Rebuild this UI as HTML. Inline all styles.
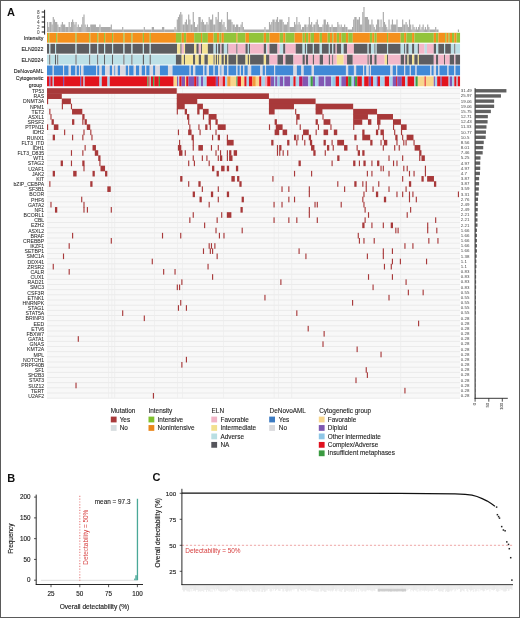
<!DOCTYPE html>
<html><head><meta charset="utf-8"><style>
html,body{margin:0;padding:0;background:#fff;}
body{width:520px;height:618px;overflow:hidden;}
svg{display:block;will-change:transform;}
</style></head><body>
<svg width="520" height="618" viewBox="0 0 520 618">
<rect width="520" height="618" fill="#fff"/>
<rect x="0.5" y="0.5" width="519" height="617" fill="none" stroke="#5a5a5a" stroke-width="1"/>
<text x="7.1" y="16" font-size="11" font-weight="bold" font-family="Liberation Sans, sans-serif" fill="#111">A</text>
<text x="7.3" y="481.6" font-size="11" font-weight="bold" font-family="Liberation Sans, sans-serif" fill="#111">B</text>
<text x="152.6" y="480.8" font-size="11" font-weight="bold" font-family="Liberation Sans, sans-serif" fill="#111">C</text>
<g fill="#ababab">
<rect x="47" y="22" width="1.17" height="10"/>
<rect x="48.14" y="27" width="1.17" height="5"/>
<rect x="49.28" y="22" width="2.31" height="10"/>
<rect x="51.55" y="24.5" width="1.17" height="7.5"/>
<rect x="52.69" y="17" width="1.17" height="15"/>
<rect x="53.83" y="19.5" width="1.17" height="12.5"/>
<rect x="54.97" y="22" width="2.31" height="10"/>
<rect x="57.24" y="24.5" width="1.17" height="7.5"/>
<rect x="58.38" y="27" width="2.31" height="5"/>
<rect x="60.66" y="24.5" width="1.17" height="7.5"/>
<rect x="61.8" y="22" width="1.17" height="10"/>
<rect x="62.93" y="24.5" width="2.31" height="7.5"/>
<rect x="65.21" y="27" width="3.44" height="5"/>
<rect x="68.62" y="22" width="1.17" height="10"/>
<rect x="69.76" y="27" width="1.17" height="5"/>
<rect x="70.9" y="22" width="1.17" height="10"/>
<rect x="72.04" y="19.5" width="1.17" height="12.5"/>
<rect x="73.18" y="22" width="1.17" height="10"/>
<rect x="74.31" y="24.5" width="1.17" height="7.5"/>
<rect x="75.45" y="22" width="1.17" height="10"/>
<rect x="76.59" y="27" width="1.17" height="5"/>
<rect x="77.73" y="24.5" width="1.17" height="7.5"/>
<rect x="78.87" y="27" width="2.31" height="5"/>
<rect x="81.14" y="24.5" width="1.17" height="7.5"/>
<rect x="82.28" y="17" width="1.17" height="15"/>
<rect x="83.42" y="14.5" width="1.17" height="17.5"/>
<rect x="84.56" y="24.5" width="1.17" height="7.5"/>
<rect x="85.7" y="27" width="1.17" height="5"/>
<rect x="86.83" y="24.5" width="1.17" height="7.5"/>
<rect x="87.97" y="27" width="2.31" height="5"/>
<rect x="90.25" y="24.5" width="5.72" height="7.5"/>
<rect x="95.94" y="27" width="3.44" height="5"/>
<rect x="99.35" y="24.5" width="1.17" height="7.5"/>
<rect x="100.49" y="27" width="10.27" height="5"/>
<rect x="110.73" y="24.5" width="1.17" height="7.5"/>
<rect x="111.87" y="29.5" width="10.27" height="2.5"/>
<rect x="122.12" y="27" width="1.17" height="5"/>
<rect x="123.25" y="29.5" width="20.52" height="2.5"/>
<rect x="143.74" y="27" width="1.17" height="5"/>
<rect x="144.88" y="29.5" width="6.86" height="2.5"/>
<rect x="151.71" y="27" width="2.31" height="5"/>
<rect x="153.98" y="29.5" width="8" height="2.5"/>
<rect x="161.95" y="27" width="2.31" height="5"/>
<rect x="164.23" y="29.5" width="10.27" height="2.5"/>
<rect x="174.47" y="27" width="1.17" height="5"/>
<rect x="175.61" y="29.5" width="1.17" height="2.5"/>
<rect x="176.75" y="19.5" width="1.17" height="12.5"/>
<rect x="177.88" y="17" width="1.17" height="15"/>
<rect x="179.02" y="14.5" width="1.17" height="17.5"/>
<rect x="180.16" y="12" width="1.17" height="20"/>
<rect x="181.3" y="14.5" width="1.17" height="17.5"/>
<rect x="182.44" y="24.5" width="2.31" height="7.5"/>
<rect x="184.71" y="22" width="1.17" height="10"/>
<rect x="185.85" y="19.5" width="1.17" height="12.5"/>
<rect x="186.99" y="24.5" width="1.17" height="7.5"/>
<rect x="188.13" y="14.5" width="1.17" height="17.5"/>
<rect x="189.27" y="19.5" width="1.17" height="12.5"/>
<rect x="190.4" y="24.5" width="2.31" height="7.5"/>
<rect x="192.68" y="12" width="1.17" height="20"/>
<rect x="193.82" y="22" width="1.17" height="10"/>
<rect x="194.96" y="27" width="2.31" height="5"/>
<rect x="197.23" y="24.5" width="1.17" height="7.5"/>
<rect x="198.37" y="17" width="2.31" height="15"/>
<rect x="200.65" y="22" width="1.17" height="10"/>
<rect x="201.78" y="19.5" width="1.17" height="12.5"/>
<rect x="202.92" y="22" width="1.17" height="10"/>
<rect x="204.06" y="24.5" width="2.31" height="7.5"/>
<rect x="206.34" y="22" width="1.17" height="10"/>
<rect x="207.48" y="24.5" width="1.17" height="7.5"/>
<rect x="208.61" y="17" width="1.17" height="15"/>
<rect x="209.75" y="19.5" width="2.31" height="12.5"/>
<rect x="212.03" y="14.5" width="1.17" height="17.5"/>
<rect x="213.17" y="24.5" width="2.31" height="7.5"/>
<rect x="215.44" y="17" width="1.17" height="15"/>
<rect x="216.58" y="19.5" width="1.17" height="12.5"/>
<rect x="217.72" y="12" width="1.17" height="20"/>
<rect x="218.86" y="22" width="2.31" height="10"/>
<rect x="221.13" y="19.5" width="1.17" height="12.5"/>
<rect x="222.27" y="24.5" width="1.17" height="7.5"/>
<rect x="223.41" y="22" width="1.17" height="10"/>
<rect x="224.55" y="27" width="1.17" height="5"/>
<rect x="225.69" y="29.5" width="1.17" height="2.5"/>
<rect x="226.82" y="12" width="1.17" height="20"/>
<rect x="227.96" y="19.5" width="3.44" height="12.5"/>
<rect x="231.38" y="22" width="1.17" height="10"/>
<rect x="232.51" y="24.5" width="2.31" height="7.5"/>
<rect x="234.79" y="27" width="1.17" height="5"/>
<rect x="235.93" y="24.5" width="2.31" height="7.5"/>
<rect x="238.2" y="27" width="2.31" height="5"/>
<rect x="240.48" y="24.5" width="1.17" height="7.5"/>
<rect x="241.62" y="22" width="1.17" height="10"/>
<rect x="242.76" y="27" width="1.17" height="5"/>
<rect x="243.9" y="29.5" width="20.52" height="2.5"/>
<rect x="264.38" y="27" width="1.17" height="5"/>
<rect x="265.52" y="29.5" width="3.44" height="2.5"/>
<rect x="268.93" y="22" width="1.17" height="10"/>
<rect x="270.07" y="24.5" width="1.17" height="7.5"/>
<rect x="271.21" y="22" width="1.17" height="10"/>
<rect x="272.35" y="19.5" width="2.31" height="12.5"/>
<rect x="274.62" y="22" width="1.17" height="10"/>
<rect x="275.76" y="19.5" width="1.17" height="12.5"/>
<rect x="276.9" y="17" width="1.17" height="15"/>
<rect x="278.04" y="22" width="1.17" height="10"/>
<rect x="279.18" y="19.5" width="3.44" height="12.5"/>
<rect x="282.59" y="22" width="1.17" height="10"/>
<rect x="283.73" y="24.5" width="3.44" height="7.5"/>
<rect x="287.14" y="22" width="1.17" height="10"/>
<rect x="288.28" y="17" width="1.17" height="15"/>
<rect x="289.42" y="27" width="4.58" height="5"/>
<rect x="293.97" y="22" width="1.17" height="10"/>
<rect x="295.11" y="24.5" width="1.17" height="7.5"/>
<rect x="296.25" y="17" width="1.17" height="15"/>
<rect x="297.39" y="24.5" width="1.17" height="7.5"/>
<rect x="298.52" y="22" width="1.17" height="10"/>
<rect x="299.66" y="24.5" width="1.17" height="7.5"/>
<rect x="300.8" y="29.5" width="1.17" height="2.5"/>
<rect x="301.94" y="27" width="2.31" height="5"/>
<rect x="304.22" y="24.5" width="2.31" height="7.5"/>
<rect x="306.49" y="27" width="1.17" height="5"/>
<rect x="307.63" y="24.5" width="1.17" height="7.5"/>
<rect x="308.77" y="17" width="1.17" height="15"/>
<rect x="309.91" y="24.5" width="1.17" height="7.5"/>
<rect x="311.04" y="22" width="1.17" height="10"/>
<rect x="312.18" y="27" width="1.17" height="5"/>
<rect x="313.32" y="24.5" width="2.31" height="7.5"/>
<rect x="315.6" y="22" width="1.17" height="10"/>
<rect x="316.73" y="19.5" width="1.17" height="12.5"/>
<rect x="317.87" y="24.5" width="1.17" height="7.5"/>
<rect x="319.01" y="27" width="3.44" height="5"/>
<rect x="322.43" y="24.5" width="1.17" height="7.5"/>
<rect x="323.56" y="19.5" width="2.31" height="12.5"/>
<rect x="325.84" y="24.5" width="1.17" height="7.5"/>
<rect x="326.98" y="22" width="1.17" height="10"/>
<rect x="328.12" y="24.5" width="1.17" height="7.5"/>
<rect x="329.25" y="27" width="2.31" height="5"/>
<rect x="331.53" y="24.5" width="1.17" height="7.5"/>
<rect x="332.67" y="27" width="4.58" height="5"/>
<rect x="337.22" y="22" width="1.17" height="10"/>
<rect x="338.36" y="24.5" width="1.17" height="7.5"/>
<rect x="339.5" y="27" width="1.17" height="5"/>
<rect x="340.64" y="24.5" width="1.17" height="7.5"/>
<rect x="341.77" y="27" width="2.31" height="5"/>
<rect x="344.05" y="24.5" width="1.17" height="7.5"/>
<rect x="345.19" y="27" width="2.31" height="5"/>
<rect x="347.46" y="29.5" width="4.58" height="2.5"/>
<rect x="352.02" y="27" width="1.17" height="5"/>
<rect x="353.15" y="19.5" width="1.17" height="12.5"/>
<rect x="354.29" y="17" width="2.31" height="15"/>
<rect x="356.57" y="19.5" width="2.31" height="12.5"/>
<rect x="358.85" y="17" width="1.17" height="15"/>
<rect x="359.98" y="24.5" width="2.31" height="7.5"/>
<rect x="362.26" y="12" width="1.17" height="20"/>
<rect x="363.4" y="7" width="1.17" height="25"/>
<rect x="364.54" y="17" width="3.44" height="15"/>
<rect x="367.95" y="19.5" width="1.17" height="12.5"/>
<rect x="369.09" y="24.5" width="2.31" height="7.5"/>
<rect x="371.36" y="19.5" width="1.17" height="12.5"/>
<rect x="372.5" y="24.5" width="1.17" height="7.5"/>
<rect x="373.64" y="27" width="1.17" height="5"/>
<rect x="374.78" y="29.5" width="1.17" height="2.5"/>
<rect x="375.92" y="24.5" width="1.17" height="7.5"/>
<rect x="377.06" y="19.5" width="2.31" height="12.5"/>
<rect x="379.33" y="27" width="1.17" height="5"/>
<rect x="380.47" y="19.5" width="1.17" height="12.5"/>
<rect x="381.61" y="27" width="1.17" height="5"/>
<rect x="382.75" y="12" width="1.17" height="20"/>
<rect x="383.88" y="22" width="1.17" height="10"/>
<rect x="385.02" y="24.5" width="1.17" height="7.5"/>
<rect x="386.16" y="27" width="1.17" height="5"/>
<rect x="387.3" y="29.5" width="1.17" height="2.5"/>
<rect x="388.44" y="19.5" width="1.17" height="12.5"/>
<rect x="389.57" y="29.5" width="1.17" height="2.5"/>
<rect x="390.71" y="24.5" width="1.17" height="7.5"/>
<rect x="391.85" y="19.5" width="1.17" height="12.5"/>
<rect x="392.99" y="24.5" width="3.44" height="7.5"/>
<rect x="396.4" y="19.5" width="1.17" height="12.5"/>
<rect x="397.54" y="27" width="4.58" height="5"/>
<rect x="402.09" y="19.5" width="1.17" height="12.5"/>
<rect x="403.23" y="24.5" width="2.31" height="7.5"/>
<rect x="405.51" y="22" width="1.17" height="10"/>
<rect x="406.65" y="24.5" width="1.17" height="7.5"/>
<rect x="407.78" y="27" width="1.17" height="5"/>
<rect x="408.92" y="19.5" width="1.17" height="12.5"/>
<rect x="410.06" y="24.5" width="1.17" height="7.5"/>
<rect x="411.2" y="29.5" width="1.17" height="2.5"/>
<rect x="412.34" y="24.5" width="1.17" height="7.5"/>
<rect x="413.48" y="27" width="1.17" height="5"/>
<rect x="414.61" y="29.5" width="1.17" height="2.5"/>
<rect x="415.75" y="27" width="1.17" height="5"/>
<rect x="416.89" y="29.5" width="1.17" height="2.5"/>
<rect x="418.03" y="27" width="1.17" height="5"/>
<rect x="419.17" y="24.5" width="1.17" height="7.5"/>
<rect x="420.3" y="29.5" width="1.17" height="2.5"/>
<rect x="421.44" y="27" width="1.17" height="5"/>
<rect x="422.58" y="24.5" width="1.17" height="7.5"/>
<rect x="423.72" y="29.5" width="1.17" height="2.5"/>
<rect x="424.86" y="27" width="1.17" height="5"/>
<rect x="425.99" y="29.5" width="1.17" height="2.5"/>
<rect x="427.13" y="24.5" width="1.17" height="7.5"/>
<rect x="428.27" y="27" width="1.17" height="5"/>
<rect x="429.41" y="29.5" width="5.72" height="2.5"/>
<rect x="435.1" y="27" width="1.17" height="5"/>
<rect x="436.24" y="29.5" width="2.31" height="2.5"/>
<rect x="457.86" y="29.5" width="1.17" height="2.5"/>
</g>
<line x1="44.6" y1="9.8" x2="44.6" y2="34.6" stroke="#111" stroke-width="0.9"/>
<line x1="41.7" y1="32" x2="44.6" y2="32" stroke="#111" stroke-width="0.95"/>
<text x="39.7" y="33.7" text-anchor="end" font-size="4.7" font-family="Liberation Sans, sans-serif" fill="#555" stroke="#555" stroke-width="0.08">0</text>
<line x1="41.7" y1="27" x2="44.6" y2="27" stroke="#111" stroke-width="0.95"/>
<text x="39.7" y="28.7" text-anchor="end" font-size="4.7" font-family="Liberation Sans, sans-serif" fill="#555" stroke="#555" stroke-width="0.08">2</text>
<line x1="41.7" y1="22" x2="44.6" y2="22" stroke="#111" stroke-width="0.95"/>
<text x="39.7" y="23.7" text-anchor="end" font-size="4.7" font-family="Liberation Sans, sans-serif" fill="#555" stroke="#555" stroke-width="0.08">4</text>
<line x1="41.7" y1="17" x2="44.6" y2="17" stroke="#111" stroke-width="0.95"/>
<text x="39.7" y="18.7" text-anchor="end" font-size="4.7" font-family="Liberation Sans, sans-serif" fill="#555" stroke="#555" stroke-width="0.08">6</text>
<line x1="41.7" y1="12" x2="44.6" y2="12" stroke="#111" stroke-width="0.95"/>
<text x="39.7" y="13.7" text-anchor="end" font-size="4.7" font-family="Liberation Sans, sans-serif" fill="#555" stroke="#555" stroke-width="0.08">8</text>
<rect x="47" y="32.8" width="1.19" height="9.85" fill="#f4901c"/>
<rect x="48.14" y="32.8" width="1.19" height="9.85" fill="#92c43a"/>
<rect x="49.28" y="32.8" width="6.9" height="9.85" fill="#f4901c"/>
<rect x="56.13" y="32.8" width="1.19" height="9.85" fill="#92c43a"/>
<rect x="57.27" y="32.8" width="18.3" height="9.85" fill="#f4901c"/>
<rect x="75.52" y="32.8" width="1.19" height="9.85" fill="#92c43a"/>
<rect x="76.66" y="32.8" width="12.6" height="9.85" fill="#f4901c"/>
<rect x="89.21" y="32.8" width="1.19" height="9.85" fill="#92c43a"/>
<rect x="90.35" y="32.8" width="6.9" height="9.85" fill="#f4901c"/>
<rect x="97.2" y="32.8" width="1.19" height="9.85" fill="#92c43a"/>
<rect x="98.34" y="32.8" width="5.75" height="9.85" fill="#f4901c"/>
<rect x="104.04" y="32.8" width="1.19" height="9.85" fill="#92c43a"/>
<rect x="105.19" y="32.8" width="6.9" height="9.85" fill="#f4901c"/>
<rect x="112.03" y="32.8" width="1.19" height="9.85" fill="#92c43a"/>
<rect x="113.17" y="32.8" width="10.32" height="9.85" fill="#f4901c"/>
<rect x="123.44" y="32.8" width="1.19" height="9.85" fill="#92c43a"/>
<rect x="124.58" y="32.8" width="6.9" height="9.85" fill="#f4901c"/>
<rect x="131.43" y="32.8" width="1.19" height="9.85" fill="#92c43a"/>
<rect x="132.57" y="32.8" width="10.32" height="9.85" fill="#f4901c"/>
<rect x="142.83" y="32.8" width="1.19" height="9.85" fill="#92c43a"/>
<rect x="143.98" y="32.8" width="5.75" height="9.85" fill="#f4901c"/>
<rect x="149.68" y="32.8" width="1.19" height="9.85" fill="#92c43a"/>
<rect x="150.82" y="32.8" width="25.15" height="9.85" fill="#f4901c"/>
<rect x="175.92" y="32.8" width="5.75" height="9.85" fill="#92c43a"/>
<rect x="181.62" y="32.8" width="2.33" height="9.85" fill="#f4901c"/>
<rect x="183.91" y="32.8" width="2.33" height="9.85" fill="#92c43a"/>
<rect x="186.19" y="32.8" width="8.04" height="9.85" fill="#f4901c"/>
<rect x="194.17" y="32.8" width="6.9" height="9.85" fill="#92c43a"/>
<rect x="201.02" y="32.8" width="1.19" height="9.85" fill="#f4901c"/>
<rect x="202.16" y="32.8" width="5.75" height="9.85" fill="#92c43a"/>
<rect x="207.86" y="32.8" width="5.75" height="9.85" fill="#f4901c"/>
<rect x="213.57" y="32.8" width="3.47" height="9.85" fill="#92c43a"/>
<rect x="216.99" y="32.8" width="2.33" height="9.85" fill="#f4901c"/>
<rect x="219.27" y="32.8" width="2.33" height="9.85" fill="#92c43a"/>
<rect x="221.56" y="32.8" width="2.33" height="9.85" fill="#f4901c"/>
<rect x="223.84" y="32.8" width="12.6" height="9.85" fill="#92c43a"/>
<rect x="236.39" y="32.8" width="1.19" height="9.85" fill="#f4901c"/>
<rect x="237.53" y="32.8" width="8.04" height="9.85" fill="#92c43a"/>
<rect x="245.51" y="32.8" width="3.47" height="9.85" fill="#f4901c"/>
<rect x="248.94" y="32.8" width="14.88" height="9.85" fill="#92c43a"/>
<rect x="263.77" y="32.8" width="2.33" height="9.85" fill="#f4901c"/>
<rect x="266.05" y="32.8" width="3.47" height="9.85" fill="#92c43a"/>
<rect x="269.47" y="32.8" width="10.32" height="9.85" fill="#f4901c"/>
<rect x="279.74" y="32.8" width="3.47" height="9.85" fill="#92c43a"/>
<rect x="283.16" y="32.8" width="2.33" height="9.85" fill="#f4901c"/>
<rect x="285.44" y="32.8" width="9.18" height="9.85" fill="#92c43a"/>
<rect x="294.57" y="32.8" width="8.04" height="9.85" fill="#f4901c"/>
<rect x="302.56" y="32.8" width="2.33" height="9.85" fill="#92c43a"/>
<rect x="304.84" y="32.8" width="1.19" height="9.85" fill="#f4901c"/>
<rect x="305.98" y="32.8" width="2.33" height="9.85" fill="#92c43a"/>
<rect x="308.26" y="32.8" width="2.33" height="9.85" fill="#f4901c"/>
<rect x="310.54" y="32.8" width="3.47" height="9.85" fill="#92c43a"/>
<rect x="313.97" y="32.8" width="5.75" height="9.85" fill="#f4901c"/>
<rect x="319.67" y="32.8" width="2.33" height="9.85" fill="#92c43a"/>
<rect x="321.95" y="32.8" width="5.75" height="9.85" fill="#f4901c"/>
<rect x="327.66" y="32.8" width="2.33" height="9.85" fill="#92c43a"/>
<rect x="329.94" y="32.8" width="2.33" height="9.85" fill="#f4901c"/>
<rect x="332.22" y="32.8" width="1.19" height="9.85" fill="#92c43a"/>
<rect x="333.36" y="32.8" width="3.47" height="9.85" fill="#f4901c"/>
<rect x="336.78" y="32.8" width="2.33" height="9.85" fill="#92c43a"/>
<rect x="339.07" y="32.8" width="2.33" height="9.85" fill="#f4901c"/>
<rect x="341.35" y="32.8" width="4.61" height="9.85" fill="#92c43a"/>
<rect x="345.91" y="32.8" width="2.33" height="9.85" fill="#f4901c"/>
<rect x="348.19" y="32.8" width="4.61" height="9.85" fill="#92c43a"/>
<rect x="352.76" y="32.8" width="17.16" height="9.85" fill="#f4901c"/>
<rect x="369.87" y="32.8" width="2.33" height="9.85" fill="#92c43a"/>
<rect x="372.15" y="32.8" width="2.33" height="9.85" fill="#f4901c"/>
<rect x="374.43" y="32.8" width="2.33" height="9.85" fill="#92c43a"/>
<rect x="376.72" y="32.8" width="10.32" height="9.85" fill="#f4901c"/>
<rect x="386.98" y="32.8" width="1.19" height="9.85" fill="#92c43a"/>
<rect x="388.12" y="32.8" width="12.6" height="9.85" fill="#f4901c"/>
<rect x="400.67" y="32.8" width="3.47" height="9.85" fill="#92c43a"/>
<rect x="404.1" y="32.8" width="2.33" height="9.85" fill="#f4901c"/>
<rect x="406.38" y="32.8" width="5.75" height="9.85" fill="#92c43a"/>
<rect x="412.08" y="32.8" width="2.33" height="9.85" fill="#f4901c"/>
<rect x="414.36" y="32.8" width="19.45" height="9.85" fill="#92c43a"/>
<rect x="433.76" y="32.8" width="2.33" height="9.85" fill="#f4901c"/>
<rect x="436.04" y="32.8" width="2.33" height="9.85" fill="#92c43a"/>
<rect x="438.32" y="32.8" width="6.9" height="9.85" fill="#f4901c"/>
<rect x="445.17" y="32.8" width="1.19" height="9.85" fill="#92c43a"/>
<rect x="446.31" y="32.8" width="2.33" height="9.85" fill="#f4901c"/>
<rect x="448.59" y="32.8" width="1.19" height="9.85" fill="#92c43a"/>
<rect x="449.73" y="32.8" width="2.33" height="9.85" fill="#f4901c"/>
<rect x="452.01" y="32.8" width="2.33" height="9.85" fill="#92c43a"/>
<rect x="454.3" y="32.8" width="2.33" height="9.85" fill="#f4901c"/>
<rect x="456.58" y="32.8" width="3.47" height="9.85" fill="#92c43a"/>
<rect x="47" y="43.8" width="2.33" height="9.85" fill="#5d5d60"/>
<rect x="49.28" y="43.8" width="1.19" height="9.85" fill="#bde0e6"/>
<rect x="50.42" y="43.8" width="4.61" height="9.85" fill="#5d5d60"/>
<rect x="54.99" y="43.8" width="1.19" height="9.85" fill="#bde0e6"/>
<rect x="56.13" y="43.8" width="19.45" height="9.85" fill="#5d5d60"/>
<rect x="75.52" y="43.8" width="1.19" height="9.85" fill="#bde0e6"/>
<rect x="76.66" y="43.8" width="12.6" height="9.85" fill="#5d5d60"/>
<rect x="89.21" y="43.8" width="1.19" height="9.85" fill="#bde0e6"/>
<rect x="90.35" y="43.8" width="6.9" height="9.85" fill="#5d5d60"/>
<rect x="97.2" y="43.8" width="1.19" height="9.85" fill="#bde0e6"/>
<rect x="98.34" y="43.8" width="5.75" height="9.85" fill="#5d5d60"/>
<rect x="104.04" y="43.8" width="1.19" height="9.85" fill="#bde0e6"/>
<rect x="105.19" y="43.8" width="6.9" height="9.85" fill="#5d5d60"/>
<rect x="112.03" y="43.8" width="1.19" height="9.85" fill="#bde0e6"/>
<rect x="113.17" y="43.8" width="10.32" height="9.85" fill="#5d5d60"/>
<rect x="123.44" y="43.8" width="1.19" height="9.85" fill="#bde0e6"/>
<rect x="124.58" y="43.8" width="6.9" height="9.85" fill="#5d5d60"/>
<rect x="131.43" y="43.8" width="1.19" height="9.85" fill="#bde0e6"/>
<rect x="132.57" y="43.8" width="10.32" height="9.85" fill="#5d5d60"/>
<rect x="142.83" y="43.8" width="1.19" height="9.85" fill="#bde0e6"/>
<rect x="143.98" y="43.8" width="5.75" height="9.85" fill="#5d5d60"/>
<rect x="149.68" y="43.8" width="1.19" height="9.85" fill="#bde0e6"/>
<rect x="150.82" y="43.8" width="26.29" height="9.85" fill="#5d5d60"/>
<rect x="177.06" y="43.8" width="3.47" height="9.85" fill="#f4e394"/>
<rect x="180.48" y="43.8" width="1.19" height="9.85" fill="#5d5d60"/>
<rect x="181.62" y="43.8" width="2.33" height="9.85" fill="#f3b8c9"/>
<rect x="183.91" y="43.8" width="1.19" height="9.85" fill="#f4e394"/>
<rect x="185.05" y="43.8" width="9.18" height="9.85" fill="#5d5d60"/>
<rect x="194.17" y="43.8" width="2.33" height="9.85" fill="#f4e394"/>
<rect x="196.46" y="43.8" width="2.33" height="9.85" fill="#5d5d60"/>
<rect x="198.74" y="43.8" width="2.33" height="9.85" fill="#f3b8c9"/>
<rect x="201.02" y="43.8" width="1.19" height="9.85" fill="#5d5d60"/>
<rect x="202.16" y="43.8" width="5.75" height="9.85" fill="#f4e394"/>
<rect x="207.86" y="43.8" width="5.75" height="9.85" fill="#5d5d60"/>
<rect x="213.57" y="43.8" width="2.33" height="9.85" fill="#bde0e6"/>
<rect x="215.85" y="43.8" width="1.19" height="9.85" fill="#5d5d60"/>
<rect x="216.99" y="43.8" width="1.19" height="9.85" fill="#bde0e6"/>
<rect x="218.13" y="43.8" width="2.33" height="9.85" fill="#5d5d60"/>
<rect x="220.41" y="43.8" width="1.19" height="9.85" fill="#f3b8c9"/>
<rect x="221.56" y="43.8" width="2.33" height="9.85" fill="#5d5d60"/>
<rect x="223.84" y="43.8" width="3.47" height="9.85" fill="#bde0e6"/>
<rect x="227.26" y="43.8" width="1.19" height="9.85" fill="#5d5d60"/>
<rect x="228.4" y="43.8" width="8.04" height="9.85" fill="#f3b8c9"/>
<rect x="236.39" y="43.8" width="1.19" height="9.85" fill="#5d5d60"/>
<rect x="237.53" y="43.8" width="8.04" height="9.85" fill="#f3b8c9"/>
<rect x="245.51" y="43.8" width="2.33" height="9.85" fill="#5d5d60"/>
<rect x="247.8" y="43.8" width="1.19" height="9.85" fill="#bde0e6"/>
<rect x="248.94" y="43.8" width="1.19" height="9.85" fill="#5d5d60"/>
<rect x="250.08" y="43.8" width="13.74" height="9.85" fill="#f3b8c9"/>
<rect x="263.77" y="43.8" width="2.33" height="9.85" fill="#5d5d60"/>
<rect x="266.05" y="43.8" width="1.19" height="9.85" fill="#bde0e6"/>
<rect x="267.19" y="43.8" width="2.33" height="9.85" fill="#f3b8c9"/>
<rect x="269.47" y="43.8" width="8.04" height="9.85" fill="#5d5d60"/>
<rect x="277.46" y="43.8" width="2.33" height="9.85" fill="#f3b8c9"/>
<rect x="279.74" y="43.8" width="3.47" height="9.85" fill="#bde0e6"/>
<rect x="283.16" y="43.8" width="2.33" height="9.85" fill="#5d5d60"/>
<rect x="285.44" y="43.8" width="10.32" height="9.85" fill="#f3b8c9"/>
<rect x="295.71" y="43.8" width="6.9" height="9.85" fill="#5d5d60"/>
<rect x="302.56" y="43.8" width="2.33" height="9.85" fill="#bde0e6"/>
<rect x="304.84" y="43.8" width="1.19" height="9.85" fill="#5d5d60"/>
<rect x="305.98" y="43.8" width="1.19" height="9.85" fill="#bde0e6"/>
<rect x="307.12" y="43.8" width="5.75" height="9.85" fill="#5d5d60"/>
<rect x="312.83" y="43.8" width="1.19" height="9.85" fill="#bde0e6"/>
<rect x="313.97" y="43.8" width="5.75" height="9.85" fill="#5d5d60"/>
<rect x="319.67" y="43.8" width="2.33" height="9.85" fill="#bde0e6"/>
<rect x="321.95" y="43.8" width="6.9" height="9.85" fill="#5d5d60"/>
<rect x="328.8" y="43.8" width="1.19" height="9.85" fill="#bde0e6"/>
<rect x="329.94" y="43.8" width="2.33" height="9.85" fill="#5d5d60"/>
<rect x="332.22" y="43.8" width="1.19" height="9.85" fill="#bde0e6"/>
<rect x="333.36" y="43.8" width="2.33" height="9.85" fill="#5d5d60"/>
<rect x="335.64" y="43.8" width="1.19" height="9.85" fill="#f3b8c9"/>
<rect x="336.78" y="43.8" width="4.61" height="9.85" fill="#5d5d60"/>
<rect x="341.35" y="43.8" width="2.33" height="9.85" fill="#bde0e6"/>
<rect x="343.63" y="43.8" width="3.47" height="9.85" fill="#5d5d60"/>
<rect x="347.05" y="43.8" width="6.9" height="9.85" fill="#f3b8c9"/>
<rect x="353.9" y="43.8" width="13.74" height="9.85" fill="#5d5d60"/>
<rect x="367.59" y="43.8" width="1.19" height="9.85" fill="#bde0e6"/>
<rect x="368.73" y="43.8" width="2.33" height="9.85" fill="#5d5d60"/>
<rect x="371.01" y="43.8" width="3.47" height="9.85" fill="#bde0e6"/>
<rect x="374.43" y="43.8" width="1.19" height="9.85" fill="#5d5d60"/>
<rect x="375.57" y="43.8" width="1.19" height="9.85" fill="#bde0e6"/>
<rect x="376.72" y="43.8" width="10.32" height="9.85" fill="#5d5d60"/>
<rect x="386.98" y="43.8" width="1.19" height="9.85" fill="#bde0e6"/>
<rect x="388.12" y="43.8" width="12.6" height="9.85" fill="#5d5d60"/>
<rect x="400.67" y="43.8" width="3.47" height="9.85" fill="#bde0e6"/>
<rect x="404.1" y="43.8" width="1.19" height="9.85" fill="#5d5d60"/>
<rect x="405.24" y="43.8" width="1.19" height="9.85" fill="#bde0e6"/>
<rect x="406.38" y="43.8" width="2.33" height="9.85" fill="#5d5d60"/>
<rect x="408.66" y="43.8" width="3.47" height="9.85" fill="#bde0e6"/>
<rect x="412.08" y="43.8" width="2.33" height="9.85" fill="#5d5d60"/>
<rect x="414.36" y="43.8" width="3.47" height="9.85" fill="#bde0e6"/>
<rect x="417.79" y="43.8" width="1.19" height="9.85" fill="#5d5d60"/>
<rect x="418.93" y="43.8" width="5.75" height="9.85" fill="#f3b8c9"/>
<rect x="424.63" y="43.8" width="2.33" height="9.85" fill="#bde0e6"/>
<rect x="426.91" y="43.8" width="6.9" height="9.85" fill="#f3b8c9"/>
<rect x="433.76" y="43.8" width="2.33" height="9.85" fill="#5d5d60"/>
<rect x="436.04" y="43.8" width="2.33" height="9.85" fill="#bde0e6"/>
<rect x="438.32" y="43.8" width="5.75" height="9.85" fill="#5d5d60"/>
<rect x="444.03" y="43.8" width="1.19" height="9.85" fill="#bde0e6"/>
<rect x="445.17" y="43.8" width="5.75" height="9.85" fill="#5d5d60"/>
<rect x="450.87" y="43.8" width="3.47" height="9.85" fill="#bde0e6"/>
<rect x="454.3" y="43.8" width="1.19" height="9.85" fill="#5d5d60"/>
<rect x="455.44" y="43.8" width="4.61" height="9.85" fill="#bde0e6"/>
<rect x="47" y="54.7" width="2.33" height="9.85" fill="#bde0e6"/>
<rect x="49.28" y="54.7" width="1.19" height="9.85" fill="#5d5d60"/>
<rect x="50.42" y="54.7" width="4.61" height="9.85" fill="#bde0e6"/>
<rect x="54.99" y="54.7" width="1.19" height="9.85" fill="#5d5d60"/>
<rect x="56.13" y="54.7" width="1.19" height="9.85" fill="#bde0e6"/>
<rect x="57.27" y="54.7" width="1.19" height="9.85" fill="#5d5d60"/>
<rect x="58.41" y="54.7" width="17.16" height="9.85" fill="#bde0e6"/>
<rect x="75.52" y="54.7" width="1.19" height="9.85" fill="#5d5d60"/>
<rect x="76.66" y="54.7" width="12.6" height="9.85" fill="#bde0e6"/>
<rect x="89.21" y="54.7" width="1.19" height="9.85" fill="#5d5d60"/>
<rect x="90.35" y="54.7" width="6.9" height="9.85" fill="#bde0e6"/>
<rect x="97.2" y="54.7" width="1.19" height="9.85" fill="#5d5d60"/>
<rect x="98.34" y="54.7" width="5.75" height="9.85" fill="#bde0e6"/>
<rect x="104.04" y="54.7" width="1.19" height="9.85" fill="#5d5d60"/>
<rect x="105.19" y="54.7" width="6.9" height="9.85" fill="#bde0e6"/>
<rect x="112.03" y="54.7" width="1.19" height="9.85" fill="#5d5d60"/>
<rect x="113.17" y="54.7" width="10.32" height="9.85" fill="#bde0e6"/>
<rect x="123.44" y="54.7" width="1.19" height="9.85" fill="#5d5d60"/>
<rect x="124.58" y="54.7" width="6.9" height="9.85" fill="#bde0e6"/>
<rect x="131.43" y="54.7" width="1.19" height="9.85" fill="#5d5d60"/>
<rect x="132.57" y="54.7" width="10.32" height="9.85" fill="#bde0e6"/>
<rect x="142.83" y="54.7" width="1.19" height="9.85" fill="#5d5d60"/>
<rect x="143.98" y="54.7" width="5.75" height="9.85" fill="#bde0e6"/>
<rect x="149.68" y="54.7" width="1.19" height="9.85" fill="#5d5d60"/>
<rect x="150.82" y="54.7" width="25.15" height="9.85" fill="#bde0e6"/>
<rect x="175.92" y="54.7" width="5.75" height="9.85" fill="#5d5d60"/>
<rect x="181.62" y="54.7" width="2.33" height="9.85" fill="#f4e394"/>
<rect x="183.91" y="54.7" width="1.19" height="9.85" fill="#5d5d60"/>
<rect x="185.05" y="54.7" width="8.04" height="9.85" fill="#f4e394"/>
<rect x="193.03" y="54.7" width="2.33" height="9.85" fill="#5d5d60"/>
<rect x="195.31" y="54.7" width="3.47" height="9.85" fill="#f4e394"/>
<rect x="198.74" y="54.7" width="2.33" height="9.85" fill="#5d5d60"/>
<rect x="201.02" y="54.7" width="3.47" height="9.85" fill="#f4e394"/>
<rect x="204.44" y="54.7" width="3.47" height="9.85" fill="#5d5d60"/>
<rect x="207.86" y="54.7" width="5.75" height="9.85" fill="#f4e394"/>
<rect x="213.57" y="54.7" width="1.19" height="9.85" fill="#5d5d60"/>
<rect x="214.71" y="54.7" width="1.19" height="9.85" fill="#f4e394"/>
<rect x="215.85" y="54.7" width="1.19" height="9.85" fill="#5d5d60"/>
<rect x="216.99" y="54.7" width="1.19" height="9.85" fill="#f4e394"/>
<rect x="218.13" y="54.7" width="1.19" height="9.85" fill="#5d5d60"/>
<rect x="219.27" y="54.7" width="2.33" height="9.85" fill="#f4e394"/>
<rect x="221.56" y="54.7" width="2.33" height="9.85" fill="#5d5d60"/>
<rect x="223.84" y="54.7" width="1.19" height="9.85" fill="#f4e394"/>
<rect x="224.98" y="54.7" width="2.33" height="9.85" fill="#5d5d60"/>
<rect x="227.26" y="54.7" width="1.19" height="9.85" fill="#f4e394"/>
<rect x="228.4" y="54.7" width="8.04" height="9.85" fill="#5d5d60"/>
<rect x="236.39" y="54.7" width="1.19" height="9.85" fill="#f4e394"/>
<rect x="237.53" y="54.7" width="8.04" height="9.85" fill="#5d5d60"/>
<rect x="245.51" y="54.7" width="2.33" height="9.85" fill="#f4e394"/>
<rect x="247.8" y="54.7" width="1.19" height="9.85" fill="#5d5d60"/>
<rect x="248.94" y="54.7" width="1.19" height="9.85" fill="#f4e394"/>
<rect x="250.08" y="54.7" width="13.74" height="9.85" fill="#5d5d60"/>
<rect x="263.77" y="54.7" width="2.33" height="9.85" fill="#f4e394"/>
<rect x="266.05" y="54.7" width="3.47" height="9.85" fill="#5d5d60"/>
<rect x="269.47" y="54.7" width="8.04" height="9.85" fill="#f3b8c9"/>
<rect x="277.46" y="54.7" width="5.75" height="9.85" fill="#5d5d60"/>
<rect x="283.16" y="54.7" width="2.33" height="9.85" fill="#f3b8c9"/>
<rect x="285.44" y="54.7" width="8.04" height="9.85" fill="#5d5d60"/>
<rect x="293.43" y="54.7" width="9.18" height="9.85" fill="#f3b8c9"/>
<rect x="302.56" y="54.7" width="2.33" height="9.85" fill="#5d5d60"/>
<rect x="304.84" y="54.7" width="1.19" height="9.85" fill="#f3b8c9"/>
<rect x="305.98" y="54.7" width="2.33" height="9.85" fill="#5d5d60"/>
<rect x="308.26" y="54.7" width="4.61" height="9.85" fill="#f3b8c9"/>
<rect x="312.83" y="54.7" width="1.19" height="9.85" fill="#5d5d60"/>
<rect x="313.97" y="54.7" width="5.75" height="9.85" fill="#f3b8c9"/>
<rect x="319.67" y="54.7" width="3.47" height="9.85" fill="#5d5d60"/>
<rect x="323.09" y="54.7" width="5.75" height="9.85" fill="#f3b8c9"/>
<rect x="328.8" y="54.7" width="1.19" height="9.85" fill="#5d5d60"/>
<rect x="329.94" y="54.7" width="2.33" height="9.85" fill="#f3b8c9"/>
<rect x="332.22" y="54.7" width="1.19" height="9.85" fill="#5d5d60"/>
<rect x="333.36" y="54.7" width="3.47" height="9.85" fill="#f3b8c9"/>
<rect x="336.78" y="54.7" width="6.9" height="9.85" fill="#f4e394"/>
<rect x="343.63" y="54.7" width="3.47" height="9.85" fill="#f3b8c9"/>
<rect x="347.05" y="54.7" width="5.75" height="9.85" fill="#5d5d60"/>
<rect x="352.76" y="54.7" width="14.88" height="9.85" fill="#f3b8c9"/>
<rect x="367.59" y="54.7" width="1.19" height="9.85" fill="#5d5d60"/>
<rect x="368.73" y="54.7" width="1.19" height="9.85" fill="#f3b8c9"/>
<rect x="369.87" y="54.7" width="2.33" height="9.85" fill="#5d5d60"/>
<rect x="372.15" y="54.7" width="2.33" height="9.85" fill="#f3b8c9"/>
<rect x="374.43" y="54.7" width="2.33" height="9.85" fill="#5d5d60"/>
<rect x="376.72" y="54.7" width="8.04" height="9.85" fill="#f3b8c9"/>
<rect x="384.7" y="54.7" width="2.33" height="9.85" fill="#f4e394"/>
<rect x="386.98" y="54.7" width="1.19" height="9.85" fill="#5d5d60"/>
<rect x="388.12" y="54.7" width="12.6" height="9.85" fill="#f3b8c9"/>
<rect x="400.67" y="54.7" width="3.47" height="9.85" fill="#5d5d60"/>
<rect x="404.1" y="54.7" width="1.19" height="9.85" fill="#f3b8c9"/>
<rect x="405.24" y="54.7" width="2.33" height="9.85" fill="#5d5d60"/>
<rect x="407.52" y="54.7" width="1.19" height="9.85" fill="#f4e394"/>
<rect x="408.66" y="54.7" width="3.47" height="9.85" fill="#5d5d60"/>
<rect x="412.08" y="54.7" width="2.33" height="9.85" fill="#f4e394"/>
<rect x="414.36" y="54.7" width="3.47" height="9.85" fill="#5d5d60"/>
<rect x="417.79" y="54.7" width="1.19" height="9.85" fill="#f4e394"/>
<rect x="418.93" y="54.7" width="14.88" height="9.85" fill="#5d5d60"/>
<rect x="433.76" y="54.7" width="2.33" height="9.85" fill="#f3b8c9"/>
<rect x="436.04" y="54.7" width="2.33" height="9.85" fill="#5d5d60"/>
<rect x="438.32" y="54.7" width="5.75" height="9.85" fill="#f3b8c9"/>
<rect x="444.03" y="54.7" width="1.19" height="9.85" fill="#5d5d60"/>
<rect x="445.17" y="54.7" width="4.61" height="9.85" fill="#f3b8c9"/>
<rect x="449.73" y="54.7" width="4.61" height="9.85" fill="#5d5d60"/>
<rect x="454.3" y="54.7" width="1.19" height="9.85" fill="#f3b8c9"/>
<rect x="455.44" y="54.7" width="4.61" height="9.85" fill="#5d5d60"/>
<rect x="47" y="65.5" width="5.75" height="9.85" fill="#4189d6"/>
<rect x="52.7" y="65.5" width="1.19" height="9.85" fill="#d9d9e2"/>
<rect x="53.85" y="65.5" width="9.18" height="9.85" fill="#4189d6"/>
<rect x="62.97" y="65.5" width="1.19" height="9.85" fill="#d9d9e2"/>
<rect x="64.11" y="65.5" width="4.61" height="9.85" fill="#4189d6"/>
<rect x="68.68" y="65.5" width="2.33" height="9.85" fill="#d9d9e2"/>
<rect x="70.96" y="65.5" width="4.61" height="9.85" fill="#4189d6"/>
<rect x="75.52" y="65.5" width="1.19" height="9.85" fill="#d9d9e2"/>
<rect x="76.66" y="65.5" width="2.33" height="9.85" fill="#4189d6"/>
<rect x="78.94" y="65.5" width="1.19" height="9.85" fill="#d9d9e2"/>
<rect x="80.09" y="65.5" width="1.19" height="9.85" fill="#4189d6"/>
<rect x="81.23" y="65.5" width="2.33" height="9.85" fill="#d9d9e2"/>
<rect x="83.51" y="65.5" width="12.6" height="9.85" fill="#4189d6"/>
<rect x="96.06" y="65.5" width="1.19" height="9.85" fill="#d9d9e2"/>
<rect x="97.2" y="65.5" width="2.33" height="9.85" fill="#4189d6"/>
<rect x="99.48" y="65.5" width="2.33" height="9.85" fill="#d9d9e2"/>
<rect x="101.76" y="65.5" width="3.47" height="9.85" fill="#4189d6"/>
<rect x="105.19" y="65.5" width="4.61" height="9.85" fill="#d9d9e2"/>
<rect x="109.75" y="65.5" width="2.33" height="9.85" fill="#4189d6"/>
<rect x="112.03" y="65.5" width="2.33" height="9.85" fill="#d9d9e2"/>
<rect x="114.31" y="65.5" width="1.19" height="9.85" fill="#4189d6"/>
<rect x="115.45" y="65.5" width="2.33" height="9.85" fill="#d9d9e2"/>
<rect x="117.73" y="65.5" width="2.33" height="9.85" fill="#4189d6"/>
<rect x="120.02" y="65.5" width="5.75" height="9.85" fill="#d9d9e2"/>
<rect x="125.72" y="65.5" width="2.33" height="9.85" fill="#4189d6"/>
<rect x="128" y="65.5" width="1.19" height="9.85" fill="#d9d9e2"/>
<rect x="129.14" y="65.5" width="4.61" height="9.85" fill="#4189d6"/>
<rect x="133.71" y="65.5" width="2.33" height="9.85" fill="#d9d9e2"/>
<rect x="135.99" y="65.5" width="3.47" height="9.85" fill="#4189d6"/>
<rect x="139.41" y="65.5" width="2.33" height="9.85" fill="#d9d9e2"/>
<rect x="141.69" y="65.5" width="3.47" height="9.85" fill="#4189d6"/>
<rect x="145.12" y="65.5" width="1.19" height="9.85" fill="#d9d9e2"/>
<rect x="146.26" y="65.5" width="3.47" height="9.85" fill="#4189d6"/>
<rect x="149.68" y="65.5" width="3.47" height="9.85" fill="#d9d9e2"/>
<rect x="153.1" y="65.5" width="2.33" height="9.85" fill="#4189d6"/>
<rect x="155.38" y="65.5" width="4.61" height="9.85" fill="#d9d9e2"/>
<rect x="159.95" y="65.5" width="8.04" height="9.85" fill="#4189d6"/>
<rect x="167.93" y="65.5" width="4.61" height="9.85" fill="#d9d9e2"/>
<rect x="172.5" y="65.5" width="17.16" height="9.85" fill="#4189d6"/>
<rect x="189.61" y="65.5" width="1.19" height="9.85" fill="#d9d9e2"/>
<rect x="190.75" y="65.5" width="2.33" height="9.85" fill="#4189d6"/>
<rect x="193.03" y="65.5" width="2.33" height="9.85" fill="#d9d9e2"/>
<rect x="195.31" y="65.5" width="8.04" height="9.85" fill="#4189d6"/>
<rect x="203.3" y="65.5" width="1.19" height="9.85" fill="#d9d9e2"/>
<rect x="204.44" y="65.5" width="2.33" height="9.85" fill="#4189d6"/>
<rect x="206.72" y="65.5" width="2.33" height="9.85" fill="#d9d9e2"/>
<rect x="209.01" y="65.5" width="4.61" height="9.85" fill="#4189d6"/>
<rect x="213.57" y="65.5" width="1.19" height="9.85" fill="#d9d9e2"/>
<rect x="214.71" y="65.5" width="3.47" height="9.85" fill="#4189d6"/>
<rect x="218.13" y="65.5" width="2.33" height="9.85" fill="#d9d9e2"/>
<rect x="220.41" y="65.5" width="1.19" height="9.85" fill="#4189d6"/>
<rect x="221.56" y="65.5" width="2.33" height="9.85" fill="#d9d9e2"/>
<rect x="223.84" y="65.5" width="3.47" height="9.85" fill="#4189d6"/>
<rect x="227.26" y="65.5" width="1.19" height="9.85" fill="#d9d9e2"/>
<rect x="228.4" y="65.5" width="8.04" height="9.85" fill="#4189d6"/>
<rect x="236.39" y="65.5" width="1.19" height="9.85" fill="#d9d9e2"/>
<rect x="237.53" y="65.5" width="2.33" height="9.85" fill="#4189d6"/>
<rect x="239.81" y="65.5" width="1.19" height="9.85" fill="#d9d9e2"/>
<rect x="240.95" y="65.5" width="2.33" height="9.85" fill="#4189d6"/>
<rect x="243.23" y="65.5" width="1.19" height="9.85" fill="#d9d9e2"/>
<rect x="244.37" y="65.5" width="3.47" height="9.85" fill="#4189d6"/>
<rect x="247.8" y="65.5" width="3.47" height="9.85" fill="#d9d9e2"/>
<rect x="251.22" y="65.5" width="9.18" height="9.85" fill="#4189d6"/>
<rect x="260.35" y="65.5" width="2.33" height="9.85" fill="#d9d9e2"/>
<rect x="262.63" y="65.5" width="2.33" height="9.85" fill="#4189d6"/>
<rect x="264.91" y="65.5" width="1.19" height="9.85" fill="#d9d9e2"/>
<rect x="266.05" y="65.5" width="8.04" height="9.85" fill="#4189d6"/>
<rect x="274.04" y="65.5" width="1.19" height="9.85" fill="#d9d9e2"/>
<rect x="275.18" y="65.5" width="18.3" height="9.85" fill="#4189d6"/>
<rect x="293.43" y="65.5" width="3.47" height="9.85" fill="#d9d9e2"/>
<rect x="296.85" y="65.5" width="4.61" height="9.85" fill="#4189d6"/>
<rect x="301.42" y="65.5" width="2.33" height="9.85" fill="#d9d9e2"/>
<rect x="303.7" y="65.5" width="8.04" height="9.85" fill="#4189d6"/>
<rect x="311.69" y="65.5" width="2.33" height="9.85" fill="#d9d9e2"/>
<rect x="313.97" y="65.5" width="31.99" height="9.85" fill="#4189d6"/>
<rect x="345.91" y="65.5" width="2.33" height="9.85" fill="#d9d9e2"/>
<rect x="348.19" y="65.5" width="5.75" height="9.85" fill="#4189d6"/>
<rect x="353.9" y="65.5" width="2.33" height="9.85" fill="#d9d9e2"/>
<rect x="356.18" y="65.5" width="6.9" height="9.85" fill="#4189d6"/>
<rect x="363.02" y="65.5" width="1.19" height="9.85" fill="#d9d9e2"/>
<rect x="364.17" y="65.5" width="2.33" height="9.85" fill="#4189d6"/>
<rect x="366.45" y="65.5" width="2.33" height="9.85" fill="#d9d9e2"/>
<rect x="368.73" y="65.5" width="1.19" height="9.85" fill="#4189d6"/>
<rect x="369.87" y="65.5" width="1.19" height="9.85" fill="#d9d9e2"/>
<rect x="371.01" y="65.5" width="19.45" height="9.85" fill="#4189d6"/>
<rect x="390.41" y="65.5" width="2.33" height="9.85" fill="#d9d9e2"/>
<rect x="392.69" y="65.5" width="3.47" height="9.85" fill="#4189d6"/>
<rect x="396.11" y="65.5" width="1.19" height="9.85" fill="#d9d9e2"/>
<rect x="397.25" y="65.5" width="6.9" height="9.85" fill="#4189d6"/>
<rect x="404.1" y="65.5" width="1.19" height="9.85" fill="#d9d9e2"/>
<rect x="405.24" y="65.5" width="4.61" height="9.85" fill="#4189d6"/>
<rect x="409.8" y="65.5" width="1.19" height="9.85" fill="#d9d9e2"/>
<rect x="410.94" y="65.5" width="4.61" height="9.85" fill="#4189d6"/>
<rect x="415.51" y="65.5" width="1.19" height="9.85" fill="#d9d9e2"/>
<rect x="416.65" y="65.5" width="13.74" height="9.85" fill="#4189d6"/>
<rect x="430.34" y="65.5" width="1.19" height="9.85" fill="#d9d9e2"/>
<rect x="431.48" y="65.5" width="2.33" height="9.85" fill="#4189d6"/>
<rect x="433.76" y="65.5" width="2.33" height="9.85" fill="#d9d9e2"/>
<rect x="436.04" y="65.5" width="2.33" height="9.85" fill="#4189d6"/>
<rect x="438.32" y="65.5" width="1.19" height="9.85" fill="#d9d9e2"/>
<rect x="439.46" y="65.5" width="8.04" height="9.85" fill="#4189d6"/>
<rect x="447.45" y="65.5" width="1.19" height="9.85" fill="#d9d9e2"/>
<rect x="448.59" y="65.5" width="5.75" height="9.85" fill="#4189d6"/>
<rect x="454.3" y="65.5" width="1.19" height="9.85" fill="#d9d9e2"/>
<rect x="455.44" y="65.5" width="4.61" height="9.85" fill="#4189d6"/>
<rect x="47" y="76.4" width="2.33" height="9.85" fill="#e2141e"/>
<rect x="49.28" y="76.4" width="1.19" height="9.85" fill="#8257b3"/>
<rect x="50.42" y="76.4" width="2.33" height="9.85" fill="#e2141e"/>
<rect x="52.7" y="76.4" width="1.19" height="9.85" fill="#a9d2ec"/>
<rect x="53.85" y="76.4" width="9.18" height="9.85" fill="#e2141e"/>
<rect x="62.97" y="76.4" width="1.19" height="9.85" fill="#8257b3"/>
<rect x="64.11" y="76.4" width="16.02" height="9.85" fill="#e2141e"/>
<rect x="80.09" y="76.4" width="1.19" height="9.85" fill="#8257b3"/>
<rect x="81.23" y="76.4" width="2.33" height="9.85" fill="#e2141e"/>
<rect x="83.51" y="76.4" width="1.19" height="9.85" fill="#a9d2ec"/>
<rect x="84.65" y="76.4" width="14.88" height="9.85" fill="#e2141e"/>
<rect x="99.48" y="76.4" width="2.33" height="9.85" fill="#a9d2ec"/>
<rect x="101.76" y="76.4" width="5.75" height="9.85" fill="#e2141e"/>
<rect x="107.47" y="76.4" width="2.33" height="9.85" fill="#a9d2ec"/>
<rect x="109.75" y="76.4" width="37.7" height="9.85" fill="#e2141e"/>
<rect x="147.4" y="76.4" width="1.19" height="9.85" fill="#3f9e44"/>
<rect x="148.54" y="76.4" width="1.19" height="9.85" fill="#e2141e"/>
<rect x="149.68" y="76.4" width="1.19" height="9.85" fill="#a9d2ec"/>
<rect x="150.82" y="76.4" width="2.33" height="9.85" fill="#e2141e"/>
<rect x="153.1" y="76.4" width="1.19" height="9.85" fill="#3f9e44"/>
<rect x="154.24" y="76.4" width="4.61" height="9.85" fill="#e2141e"/>
<rect x="158.81" y="76.4" width="1.19" height="9.85" fill="#3f9e44"/>
<rect x="159.95" y="76.4" width="13.74" height="9.85" fill="#e2141e"/>
<rect x="173.64" y="76.4" width="3.47" height="9.85" fill="#f8d68c"/>
<rect x="177.06" y="76.4" width="1.19" height="9.85" fill="#8257b3"/>
<rect x="178.2" y="76.4" width="1.19" height="9.85" fill="#a9d2ec"/>
<rect x="179.34" y="76.4" width="2.33" height="9.85" fill="#e2141e"/>
<rect x="181.62" y="76.4" width="3.47" height="9.85" fill="#8257b3"/>
<rect x="185.05" y="76.4" width="1.19" height="9.85" fill="#f8d68c"/>
<rect x="186.19" y="76.4" width="2.33" height="9.85" fill="#e2141e"/>
<rect x="188.47" y="76.4" width="5.75" height="9.85" fill="#8257b3"/>
<rect x="194.17" y="76.4" width="2.33" height="9.85" fill="#e2141e"/>
<rect x="196.46" y="76.4" width="2.33" height="9.85" fill="#8257b3"/>
<rect x="198.74" y="76.4" width="2.33" height="9.85" fill="#a9d2ec"/>
<rect x="201.02" y="76.4" width="2.33" height="9.85" fill="#8257b3"/>
<rect x="203.3" y="76.4" width="3.47" height="9.85" fill="#a9d2ec"/>
<rect x="206.72" y="76.4" width="9.18" height="9.85" fill="#e2141e"/>
<rect x="215.85" y="76.4" width="2.33" height="9.85" fill="#8257b3"/>
<rect x="218.13" y="76.4" width="1.19" height="9.85" fill="#e2141e"/>
<rect x="219.27" y="76.4" width="3.47" height="9.85" fill="#f0a0b0"/>
<rect x="222.7" y="76.4" width="2.33" height="9.85" fill="#e2141e"/>
<rect x="224.98" y="76.4" width="2.33" height="9.85" fill="#a9d2ec"/>
<rect x="227.26" y="76.4" width="3.47" height="9.85" fill="#f39a3c"/>
<rect x="230.68" y="76.4" width="5.75" height="9.85" fill="#f8d68c"/>
<rect x="236.39" y="76.4" width="1.19" height="9.85" fill="#3f9e44"/>
<rect x="237.53" y="76.4" width="3.47" height="9.85" fill="#e2141e"/>
<rect x="240.95" y="76.4" width="3.47" height="9.85" fill="#f8d68c"/>
<rect x="244.37" y="76.4" width="2.33" height="9.85" fill="#e2141e"/>
<rect x="246.65" y="76.4" width="2.33" height="9.85" fill="#a9d2ec"/>
<rect x="248.94" y="76.4" width="3.47" height="9.85" fill="#e2141e"/>
<rect x="252.36" y="76.4" width="3.47" height="9.85" fill="#f39a3c"/>
<rect x="255.78" y="76.4" width="3.47" height="9.85" fill="#f8d68c"/>
<rect x="259.2" y="76.4" width="2.33" height="9.85" fill="#e2141e"/>
<rect x="261.49" y="76.4" width="3.47" height="9.85" fill="#a9d2ec"/>
<rect x="264.91" y="76.4" width="2.33" height="9.85" fill="#f0a0b0"/>
<rect x="267.19" y="76.4" width="3.47" height="9.85" fill="#e2141e"/>
<rect x="270.61" y="76.4" width="3.47" height="9.85" fill="#8257b3"/>
<rect x="274.04" y="76.4" width="1.19" height="9.85" fill="#a9d2ec"/>
<rect x="275.18" y="76.4" width="2.33" height="9.85" fill="#8257b3"/>
<rect x="277.46" y="76.4" width="2.33" height="9.85" fill="#8ec6e6"/>
<rect x="279.74" y="76.4" width="3.47" height="9.85" fill="#8257b3"/>
<rect x="283.16" y="76.4" width="1.19" height="9.85" fill="#a9d2ec"/>
<rect x="284.3" y="76.4" width="5.75" height="9.85" fill="#8257b3"/>
<rect x="290.01" y="76.4" width="3.47" height="9.85" fill="#a9d2ec"/>
<rect x="293.43" y="76.4" width="2.33" height="9.85" fill="#e2141e"/>
<rect x="295.71" y="76.4" width="3.47" height="9.85" fill="#a9d2ec"/>
<rect x="299.14" y="76.4" width="3.47" height="9.85" fill="#c0185a"/>
<rect x="302.56" y="76.4" width="5.75" height="9.85" fill="#8257b3"/>
<rect x="308.26" y="76.4" width="2.33" height="9.85" fill="#a9d2ec"/>
<rect x="310.54" y="76.4" width="2.33" height="9.85" fill="#3f9e44"/>
<rect x="312.83" y="76.4" width="2.33" height="9.85" fill="#8257b3"/>
<rect x="315.11" y="76.4" width="3.47" height="9.85" fill="#a9d2ec"/>
<rect x="318.53" y="76.4" width="5.75" height="9.85" fill="#8257b3"/>
<rect x="324.23" y="76.4" width="1.19" height="9.85" fill="#a9d2ec"/>
<rect x="325.38" y="76.4" width="5.75" height="9.85" fill="#8257b3"/>
<rect x="331.08" y="76.4" width="1.19" height="9.85" fill="#a9d2ec"/>
<rect x="332.22" y="76.4" width="3.47" height="9.85" fill="#8ec6e6"/>
<rect x="335.64" y="76.4" width="3.47" height="9.85" fill="#e2141e"/>
<rect x="339.07" y="76.4" width="2.33" height="9.85" fill="#a9d2ec"/>
<rect x="341.35" y="76.4" width="4.61" height="9.85" fill="#8257b3"/>
<rect x="345.91" y="76.4" width="2.33" height="9.85" fill="#e2141e"/>
<rect x="348.19" y="76.4" width="3.47" height="9.85" fill="#3f9e44"/>
<rect x="351.62" y="76.4" width="2.33" height="9.85" fill="#a9d2ec"/>
<rect x="353.9" y="76.4" width="1.19" height="9.85" fill="#8257b3"/>
<rect x="355.04" y="76.4" width="2.33" height="9.85" fill="#3f9e44"/>
<rect x="357.32" y="76.4" width="4.61" height="9.85" fill="#e2141e"/>
<rect x="361.88" y="76.4" width="2.33" height="9.85" fill="#a9d2ec"/>
<rect x="364.17" y="76.4" width="4.61" height="9.85" fill="#e2141e"/>
<rect x="368.73" y="76.4" width="2.33" height="9.85" fill="#8257b3"/>
<rect x="371.01" y="76.4" width="2.33" height="9.85" fill="#e2141e"/>
<rect x="373.29" y="76.4" width="3.47" height="9.85" fill="#a9d2ec"/>
<rect x="376.72" y="76.4" width="1.19" height="9.85" fill="#8257b3"/>
<rect x="377.86" y="76.4" width="2.33" height="9.85" fill="#e2141e"/>
<rect x="380.14" y="76.4" width="4.61" height="9.85" fill="#a9d2ec"/>
<rect x="384.7" y="76.4" width="4.61" height="9.85" fill="#e2141e"/>
<rect x="389.27" y="76.4" width="3.47" height="9.85" fill="#a9d2ec"/>
<rect x="392.69" y="76.4" width="3.47" height="9.85" fill="#8257b3"/>
<rect x="396.11" y="76.4" width="1.19" height="9.85" fill="#e2141e"/>
<rect x="397.25" y="76.4" width="4.61" height="9.85" fill="#8257b3"/>
<rect x="401.81" y="76.4" width="3.47" height="9.85" fill="#e2141e"/>
<rect x="405.24" y="76.4" width="2.33" height="9.85" fill="#a9d2ec"/>
<rect x="407.52" y="76.4" width="6.9" height="9.85" fill="#e2141e"/>
<rect x="414.36" y="76.4" width="1.19" height="9.85" fill="#a9d2ec"/>
<rect x="415.51" y="76.4" width="2.33" height="9.85" fill="#3f9e44"/>
<rect x="417.79" y="76.4" width="6.9" height="9.85" fill="#f8d68c"/>
<rect x="424.63" y="76.4" width="1.19" height="9.85" fill="#e2141e"/>
<rect x="425.77" y="76.4" width="8.04" height="9.85" fill="#f8d68c"/>
<rect x="433.76" y="76.4" width="1.19" height="9.85" fill="#8257b3"/>
<rect x="434.9" y="76.4" width="2.33" height="9.85" fill="#a9d2ec"/>
<rect x="437.18" y="76.4" width="3.47" height="9.85" fill="#e2141e"/>
<rect x="440.6" y="76.4" width="1.19" height="9.85" fill="#8257b3"/>
<rect x="441.75" y="76.4" width="6.9" height="9.85" fill="#e2141e"/>
<rect x="448.59" y="76.4" width="1.19" height="9.85" fill="#a9d2ec"/>
<rect x="449.73" y="76.4" width="2.33" height="9.85" fill="#8257b3"/>
<rect x="452.01" y="76.4" width="2.33" height="9.85" fill="#a9d2ec"/>
<rect x="454.3" y="76.4" width="2.33" height="9.85" fill="#e2141e"/>
<rect x="456.58" y="76.4" width="1.19" height="9.85" fill="#a9d2ec"/>
<rect x="457.72" y="76.4" width="2.33" height="9.85" fill="#e2141e"/>
<text x="43.4" y="39.8" text-anchor="end" font-size="5.25" font-family="Liberation Sans, sans-serif" fill="#1c1c1c" stroke="#1c1c1c" stroke-width="0.1">Intensity</text>
<text x="43.4" y="50.8" text-anchor="end" font-size="5.25" font-family="Liberation Sans, sans-serif" fill="#1c1c1c" stroke="#1c1c1c" stroke-width="0.1">ELN2022</text>
<text x="43.4" y="61.7" text-anchor="end" font-size="5.25" font-family="Liberation Sans, sans-serif" fill="#1c1c1c" stroke="#1c1c1c" stroke-width="0.1">ELN2024</text>
<text x="43.4" y="72.5" text-anchor="end" font-size="5.25" font-family="Liberation Sans, sans-serif" fill="#1c1c1c" stroke="#1c1c1c" stroke-width="0.1">DeNovoAML</text>
<text x="43.4" y="80.3" text-anchor="end" font-size="5.25" font-family="Liberation Sans, sans-serif" fill="#1c1c1c" stroke="#1c1c1c" stroke-width="0.1">Cytogenetic</text>
<text x="42.2" y="87" text-anchor="end" font-size="5.25" font-family="Liberation Sans, sans-serif" fill="#1c1c1c" stroke="#1c1c1c" stroke-width="0.1">group</text>
<rect x="47.0" y="88.2" width="413.0" height="309.96" fill="#f8f8f8"/>
<g fill="#e9e9e9">
<rect x="47.0" y="87.75" width="413.0" height="0.9"/>
<rect x="47.0" y="92.92" width="413.0" height="0.9"/>
<rect x="47.0" y="98.08" width="413.0" height="0.9"/>
<rect x="47.0" y="103.25" width="413.0" height="0.9"/>
<rect x="47.0" y="108.41" width="413.0" height="0.9"/>
<rect x="47.0" y="113.58" width="413.0" height="0.9"/>
<rect x="47.0" y="118.75" width="413.0" height="0.9"/>
<rect x="47.0" y="123.91" width="413.0" height="0.9"/>
<rect x="47.0" y="129.08" width="413.0" height="0.9"/>
<rect x="47.0" y="134.24" width="413.0" height="0.9"/>
<rect x="47.0" y="139.41" width="413.0" height="0.9"/>
<rect x="47.0" y="144.58" width="413.0" height="0.9"/>
<rect x="47.0" y="149.74" width="413.0" height="0.9"/>
<rect x="47.0" y="154.91" width="413.0" height="0.9"/>
<rect x="47.0" y="160.07" width="413.0" height="0.9"/>
<rect x="47.0" y="165.24" width="413.0" height="0.9"/>
<rect x="47.0" y="170.41" width="413.0" height="0.9"/>
<rect x="47.0" y="175.57" width="413.0" height="0.9"/>
<rect x="47.0" y="180.74" width="413.0" height="0.9"/>
<rect x="47.0" y="185.9" width="413.0" height="0.9"/>
<rect x="47.0" y="191.07" width="413.0" height="0.9"/>
<rect x="47.0" y="196.24" width="413.0" height="0.9"/>
<rect x="47.0" y="201.4" width="413.0" height="0.9"/>
<rect x="47.0" y="206.57" width="413.0" height="0.9"/>
<rect x="47.0" y="211.73" width="413.0" height="0.9"/>
<rect x="47.0" y="216.9" width="413.0" height="0.9"/>
<rect x="47.0" y="222.07" width="413.0" height="0.9"/>
<rect x="47.0" y="227.23" width="413.0" height="0.9"/>
<rect x="47.0" y="232.4" width="413.0" height="0.9"/>
<rect x="47.0" y="237.56" width="413.0" height="0.9"/>
<rect x="47.0" y="242.73" width="413.0" height="0.9"/>
<rect x="47.0" y="247.9" width="413.0" height="0.9"/>
<rect x="47.0" y="253.06" width="413.0" height="0.9"/>
<rect x="47.0" y="258.23" width="413.0" height="0.9"/>
<rect x="47.0" y="263.39" width="413.0" height="0.9"/>
<rect x="47.0" y="268.56" width="413.0" height="0.9"/>
<rect x="47.0" y="273.73" width="413.0" height="0.9"/>
<rect x="47.0" y="278.89" width="413.0" height="0.9"/>
<rect x="47.0" y="284.06" width="413.0" height="0.9"/>
<rect x="47.0" y="289.22" width="413.0" height="0.9"/>
<rect x="47.0" y="294.39" width="413.0" height="0.9"/>
<rect x="47.0" y="299.56" width="413.0" height="0.9"/>
<rect x="47.0" y="304.72" width="413.0" height="0.9"/>
<rect x="47.0" y="309.89" width="413.0" height="0.9"/>
<rect x="47.0" y="315.05" width="413.0" height="0.9"/>
<rect x="47.0" y="320.22" width="413.0" height="0.9"/>
<rect x="47.0" y="325.39" width="413.0" height="0.9"/>
<rect x="47.0" y="330.55" width="413.0" height="0.9"/>
<rect x="47.0" y="335.72" width="413.0" height="0.9"/>
<rect x="47.0" y="340.88" width="413.0" height="0.9"/>
<rect x="47.0" y="346.05" width="413.0" height="0.9"/>
<rect x="47.0" y="351.22" width="413.0" height="0.9"/>
<rect x="47.0" y="356.38" width="413.0" height="0.9"/>
<rect x="47.0" y="361.55" width="413.0" height="0.9"/>
<rect x="47.0" y="366.71" width="413.0" height="0.9"/>
<rect x="47.0" y="371.88" width="413.0" height="0.9"/>
<rect x="47.0" y="377.05" width="413.0" height="0.9"/>
<rect x="47.0" y="382.21" width="413.0" height="0.9"/>
<rect x="47.0" y="387.38" width="413.0" height="0.9"/>
<rect x="47.0" y="392.54" width="413.0" height="0.9"/>
<rect x="47.0" y="397.71" width="413.0" height="0.9"/>
</g>
<g fill="#ececec">
<rect x="108" y="88.2" width="0.7" height="309.96"/>
<rect x="111.5" y="88.2" width="0.7" height="309.96"/>
<rect x="114.4" y="88.2" width="0.7" height="309.96"/>
<rect x="154.2" y="88.2" width="0.7" height="309.96"/>
<rect x="177" y="88.2" width="0.7" height="309.96"/>
<rect x="182" y="88.2" width="0.7" height="309.96"/>
<rect x="223.3" y="88.2" width="0.7" height="309.96"/>
<rect x="273.8" y="88.2" width="0.7" height="309.96"/>
<rect x="278" y="88.2" width="0.7" height="309.96"/>
<rect x="291.4" y="88.2" width="0.7" height="309.96"/>
<rect x="400.4" y="88.2" width="0.7" height="309.96"/>
</g>
<g fill="#a8393a">
<rect x="47" y="88.2" width="129.75" height="5.62"/>
<rect x="47" y="93.37" width="14.8" height="5.62"/>
<rect x="176.75" y="93.37" width="92.19" height="5.62"/>
<rect x="47" y="98.53" width="1.14" height="5.62"/>
<rect x="61.8" y="98.53" width="9.11" height="5.62"/>
<rect x="176.75" y="98.53" width="20.49" height="5.62"/>
<rect x="268.93" y="98.53" width="46.67" height="5.62"/>
<rect x="61.8" y="103.7" width="1.14" height="5.62"/>
<rect x="70.9" y="103.7" width="1.14" height="5.62"/>
<rect x="176.75" y="103.7" width="7.97" height="5.62"/>
<rect x="197.23" y="103.7" width="5.69" height="5.62"/>
<rect x="268.93" y="103.7" width="25.04" height="5.62"/>
<rect x="315.6" y="103.7" width="37.56" height="5.62"/>
<rect x="49.28" y="108.86" width="1.14" height="5.62"/>
<rect x="72.04" y="108.86" width="10.25" height="5.62"/>
<rect x="176.75" y="108.86" width="1.14" height="5.62"/>
<rect x="184.71" y="108.86" width="2.28" height="5.62"/>
<rect x="197.23" y="108.86" width="2.28" height="5.62"/>
<rect x="202.92" y="108.86" width="5.69" height="5.62"/>
<rect x="268.93" y="108.86" width="5.69" height="5.62"/>
<rect x="295.11" y="108.86" width="1.14" height="5.62"/>
<rect x="315.6" y="108.86" width="6.83" height="5.62"/>
<rect x="353.15" y="108.86" width="23.9" height="5.62"/>
<rect x="50.41" y="114.03" width="1.14" height="5.62"/>
<rect x="82.28" y="114.03" width="2.28" height="5.62"/>
<rect x="186.99" y="114.03" width="2.28" height="5.62"/>
<rect x="202.92" y="114.03" width="1.14" height="5.62"/>
<rect x="208.61" y="114.03" width="7.97" height="5.62"/>
<rect x="296.25" y="114.03" width="3.42" height="5.62"/>
<rect x="322.43" y="114.03" width="1.14" height="5.62"/>
<rect x="353.15" y="114.03" width="14.8" height="5.62"/>
<rect x="377.06" y="114.03" width="15.94" height="5.62"/>
<rect x="51.55" y="119.2" width="2.28" height="5.62"/>
<rect x="72.04" y="119.2" width="2.28" height="5.62"/>
<rect x="82.28" y="119.2" width="1.14" height="5.62"/>
<rect x="84.56" y="119.2" width="2.28" height="5.62"/>
<rect x="188.13" y="119.2" width="1.14" height="5.62"/>
<rect x="208.61" y="119.2" width="2.28" height="5.62"/>
<rect x="215.44" y="119.2" width="2.28" height="5.62"/>
<rect x="274.62" y="119.2" width="2.28" height="5.62"/>
<rect x="296.25" y="119.2" width="1.14" height="5.62"/>
<rect x="315.6" y="119.2" width="2.28" height="5.62"/>
<rect x="323.56" y="119.2" width="6.83" height="5.62"/>
<rect x="353.15" y="119.2" width="9.11" height="5.62"/>
<rect x="367.95" y="119.2" width="3.42" height="5.62"/>
<rect x="377.06" y="119.2" width="3.42" height="5.62"/>
<rect x="392.99" y="119.2" width="7.97" height="5.62"/>
<rect x="47" y="124.36" width="1.14" height="5.62"/>
<rect x="53.83" y="124.36" width="4.56" height="5.62"/>
<rect x="86.83" y="124.36" width="3.42" height="5.62"/>
<rect x="189.27" y="124.36" width="1.14" height="5.62"/>
<rect x="198.37" y="124.36" width="1.14" height="5.62"/>
<rect x="205.2" y="124.36" width="2.28" height="5.62"/>
<rect x="209.75" y="124.36" width="1.14" height="5.62"/>
<rect x="217.72" y="124.36" width="7.97" height="5.62"/>
<rect x="268.93" y="124.36" width="1.14" height="5.62"/>
<rect x="275.76" y="124.36" width="6.83" height="5.62"/>
<rect x="299.66" y="124.36" width="1.14" height="5.62"/>
<rect x="317.87" y="124.36" width="1.14" height="5.62"/>
<rect x="330.39" y="124.36" width="1.14" height="5.62"/>
<rect x="353.15" y="124.36" width="1.14" height="5.62"/>
<rect x="378.19" y="124.36" width="1.14" height="5.62"/>
<rect x="392.99" y="124.36" width="1.14" height="5.62"/>
<rect x="400.96" y="124.36" width="5.69" height="5.62"/>
<rect x="64.07" y="129.53" width="1.14" height="5.62"/>
<rect x="83.42" y="129.53" width="1.14" height="5.62"/>
<rect x="90.25" y="129.53" width="1.14" height="5.62"/>
<rect x="177.88" y="129.53" width="1.14" height="5.62"/>
<rect x="188.13" y="129.53" width="3.42" height="5.62"/>
<rect x="199.51" y="129.53" width="1.14" height="5.62"/>
<rect x="215.44" y="129.53" width="1.14" height="5.62"/>
<rect x="274.62" y="129.53" width="4.56" height="5.62"/>
<rect x="282.59" y="129.53" width="4.56" height="5.62"/>
<rect x="303.08" y="129.53" width="5.69" height="5.62"/>
<rect x="315.6" y="129.53" width="1.14" height="5.62"/>
<rect x="323.56" y="129.53" width="4.56" height="5.62"/>
<rect x="333.81" y="129.53" width="3.42" height="5.62"/>
<rect x="362.26" y="129.53" width="2.28" height="5.62"/>
<rect x="375.92" y="129.53" width="2.28" height="5.62"/>
<rect x="380.47" y="129.53" width="3.42" height="5.62"/>
<rect x="394.13" y="129.53" width="1.14" height="5.62"/>
<rect x="400.96" y="129.53" width="1.14" height="5.62"/>
<rect x="52.69" y="134.69" width="2.28" height="5.62"/>
<rect x="72.04" y="134.69" width="1.14" height="5.62"/>
<rect x="82.28" y="134.69" width="1.14" height="5.62"/>
<rect x="91.39" y="134.69" width="1.14" height="5.62"/>
<rect x="191.54" y="134.69" width="2.28" height="5.62"/>
<rect x="212.03" y="134.69" width="1.14" height="5.62"/>
<rect x="217.72" y="134.69" width="2.28" height="5.62"/>
<rect x="226.82" y="134.69" width="1.14" height="5.62"/>
<rect x="293.97" y="134.69" width="2.28" height="5.62"/>
<rect x="297.39" y="134.69" width="1.14" height="5.62"/>
<rect x="301.94" y="134.69" width="1.14" height="5.62"/>
<rect x="308.77" y="134.69" width="2.28" height="5.62"/>
<rect x="354.29" y="134.69" width="2.28" height="5.62"/>
<rect x="362.26" y="134.69" width="7.97" height="5.62"/>
<rect x="382.75" y="134.69" width="1.14" height="5.62"/>
<rect x="395.27" y="134.69" width="2.28" height="5.62"/>
<rect x="402.09" y="134.69" width="1.14" height="5.62"/>
<rect x="406.65" y="134.69" width="6.83" height="5.62"/>
<rect x="179.02" y="139.86" width="1.14" height="5.62"/>
<rect x="192.68" y="139.86" width="1.14" height="5.62"/>
<rect x="226.82" y="139.86" width="6.83" height="5.62"/>
<rect x="271.21" y="139.86" width="2.28" height="5.62"/>
<rect x="287.14" y="139.86" width="2.28" height="5.62"/>
<rect x="296.25" y="139.86" width="1.14" height="5.62"/>
<rect x="304.22" y="139.86" width="1.14" height="5.62"/>
<rect x="309.91" y="139.86" width="2.28" height="5.62"/>
<rect x="323.56" y="139.86" width="2.28" height="5.62"/>
<rect x="331.53" y="139.86" width="1.14" height="5.62"/>
<rect x="337.22" y="139.86" width="6.83" height="5.62"/>
<rect x="370.23" y="139.86" width="2.28" height="5.62"/>
<rect x="380.47" y="139.86" width="1.14" height="5.62"/>
<rect x="383.88" y="139.86" width="3.42" height="5.62"/>
<rect x="396.4" y="139.86" width="1.14" height="5.62"/>
<rect x="403.23" y="139.86" width="1.14" height="5.62"/>
<rect x="405.51" y="139.86" width="1.14" height="5.62"/>
<rect x="413.48" y="139.86" width="1.14" height="5.62"/>
<rect x="84.56" y="145.03" width="1.14" height="5.62"/>
<rect x="92.52" y="145.03" width="3.42" height="5.62"/>
<rect x="177.88" y="145.03" width="3.42" height="5.62"/>
<rect x="192.68" y="145.03" width="1.14" height="5.62"/>
<rect x="198.37" y="145.03" width="4.56" height="5.62"/>
<rect x="210.89" y="145.03" width="1.14" height="5.62"/>
<rect x="217.72" y="145.03" width="1.14" height="5.62"/>
<rect x="276.9" y="145.03" width="1.14" height="5.62"/>
<rect x="279.18" y="145.03" width="2.28" height="5.62"/>
<rect x="311.04" y="145.03" width="3.42" height="5.62"/>
<rect x="326.98" y="145.03" width="2.28" height="5.62"/>
<rect x="332.67" y="145.03" width="1.14" height="5.62"/>
<rect x="344.05" y="145.03" width="3.42" height="5.62"/>
<rect x="356.57" y="145.03" width="1.14" height="5.62"/>
<rect x="382.75" y="145.03" width="1.14" height="5.62"/>
<rect x="394.13" y="145.03" width="1.14" height="5.62"/>
<rect x="398.68" y="145.03" width="1.14" height="5.62"/>
<rect x="414.61" y="145.03" width="5.69" height="5.62"/>
<rect x="70.9" y="150.19" width="1.14" height="5.62"/>
<rect x="82.28" y="150.19" width="1.14" height="5.62"/>
<rect x="94.8" y="150.19" width="3.42" height="5.62"/>
<rect x="179.02" y="150.19" width="3.42" height="5.62"/>
<rect x="184.71" y="150.19" width="1.14" height="5.62"/>
<rect x="215.44" y="150.19" width="1.14" height="5.62"/>
<rect x="219.99" y="150.19" width="1.14" height="5.62"/>
<rect x="226.82" y="150.19" width="1.14" height="5.62"/>
<rect x="229.1" y="150.19" width="2.28" height="5.62"/>
<rect x="233.65" y="150.19" width="3.42" height="5.62"/>
<rect x="276.9" y="150.19" width="1.14" height="5.62"/>
<rect x="279.18" y="150.19" width="1.14" height="5.62"/>
<rect x="282.59" y="150.19" width="1.14" height="5.62"/>
<rect x="287.14" y="150.19" width="1.14" height="5.62"/>
<rect x="313.32" y="150.19" width="2.28" height="5.62"/>
<rect x="324.7" y="150.19" width="1.14" height="5.62"/>
<rect x="357.71" y="150.19" width="2.28" height="5.62"/>
<rect x="362.26" y="150.19" width="2.28" height="5.62"/>
<rect x="419.17" y="150.19" width="2.28" height="5.62"/>
<rect x="98.22" y="155.36" width="2.28" height="5.62"/>
<rect x="192.68" y="155.36" width="1.14" height="5.62"/>
<rect x="201.78" y="155.36" width="1.14" height="5.62"/>
<rect x="206.34" y="155.36" width="1.14" height="5.62"/>
<rect x="217.72" y="155.36" width="1.14" height="5.62"/>
<rect x="219.99" y="155.36" width="2.28" height="5.62"/>
<rect x="226.82" y="155.36" width="1.14" height="5.62"/>
<rect x="229.1" y="155.36" width="3.42" height="5.62"/>
<rect x="337.22" y="155.36" width="2.28" height="5.62"/>
<rect x="388.44" y="155.36" width="1.14" height="5.62"/>
<rect x="402.09" y="155.36" width="1.14" height="5.62"/>
<rect x="419.17" y="155.36" width="1.14" height="5.62"/>
<rect x="421.44" y="155.36" width="3.42" height="5.62"/>
<rect x="60.66" y="160.52" width="2.28" height="5.62"/>
<rect x="70.9" y="160.52" width="1.14" height="5.62"/>
<rect x="82.28" y="160.52" width="2.28" height="5.62"/>
<rect x="99.35" y="160.52" width="1.14" height="5.62"/>
<rect x="188.13" y="160.52" width="1.14" height="5.62"/>
<rect x="193.82" y="160.52" width="1.14" height="5.62"/>
<rect x="208.61" y="160.52" width="1.14" height="5.62"/>
<rect x="298.52" y="160.52" width="2.28" height="5.62"/>
<rect x="331.53" y="160.52" width="1.14" height="5.62"/>
<rect x="353.15" y="160.52" width="2.28" height="5.62"/>
<rect x="358.85" y="160.52" width="1.14" height="5.62"/>
<rect x="363.4" y="160.52" width="2.28" height="5.62"/>
<rect x="371.36" y="160.52" width="1.14" height="5.62"/>
<rect x="377.06" y="160.52" width="2.28" height="5.62"/>
<rect x="392.99" y="160.52" width="1.14" height="5.62"/>
<rect x="396.4" y="160.52" width="1.14" height="5.62"/>
<rect x="83.42" y="165.69" width="1.14" height="5.62"/>
<rect x="100.49" y="165.69" width="4.56" height="5.62"/>
<rect x="212.03" y="165.69" width="2.28" height="5.62"/>
<rect x="221.13" y="165.69" width="3.42" height="5.62"/>
<rect x="226.82" y="165.69" width="2.28" height="5.62"/>
<rect x="235.93" y="165.69" width="2.28" height="5.62"/>
<rect x="380.47" y="165.69" width="1.14" height="5.62"/>
<rect x="382.75" y="165.69" width="1.14" height="5.62"/>
<rect x="403.23" y="165.69" width="1.14" height="5.62"/>
<rect x="406.65" y="165.69" width="1.14" height="5.62"/>
<rect x="424.86" y="165.69" width="1.14" height="5.62"/>
<rect x="52.69" y="170.86" width="2.28" height="5.62"/>
<rect x="73.18" y="170.86" width="3.42" height="5.62"/>
<rect x="92.52" y="170.86" width="2.28" height="5.62"/>
<rect x="105.04" y="170.86" width="2.28" height="5.62"/>
<rect x="216.58" y="170.86" width="2.28" height="5.62"/>
<rect x="293.97" y="170.86" width="1.14" height="5.62"/>
<rect x="311.04" y="170.86" width="1.14" height="5.62"/>
<rect x="366.81" y="170.86" width="1.14" height="5.62"/>
<rect x="371.36" y="170.86" width="1.14" height="5.62"/>
<rect x="388.44" y="170.86" width="1.14" height="5.62"/>
<rect x="408.92" y="170.86" width="1.14" height="5.62"/>
<rect x="413.48" y="170.86" width="1.14" height="5.62"/>
<rect x="424.86" y="170.86" width="1.14" height="5.62"/>
<rect x="180.16" y="176.02" width="2.28" height="5.62"/>
<rect x="231.38" y="176.02" width="3.42" height="5.62"/>
<rect x="237.07" y="176.02" width="2.28" height="5.62"/>
<rect x="272.35" y="176.02" width="1.14" height="5.62"/>
<rect x="402.09" y="176.02" width="1.14" height="5.62"/>
<rect x="421.44" y="176.02" width="2.28" height="5.62"/>
<rect x="427.13" y="176.02" width="6.83" height="5.62"/>
<rect x="49.28" y="181.19" width="1.14" height="5.62"/>
<rect x="90.25" y="181.19" width="2.28" height="5.62"/>
<rect x="188.13" y="181.19" width="1.14" height="5.62"/>
<rect x="198.37" y="181.19" width="2.28" height="5.62"/>
<rect x="239.34" y="181.19" width="2.28" height="5.62"/>
<rect x="337.22" y="181.19" width="1.14" height="5.62"/>
<rect x="354.29" y="181.19" width="2.28" height="5.62"/>
<rect x="362.26" y="181.19" width="1.14" height="5.62"/>
<rect x="365.67" y="181.19" width="1.14" height="5.62"/>
<rect x="378.19" y="181.19" width="1.14" height="5.62"/>
<rect x="408.92" y="181.19" width="2.28" height="5.62"/>
<rect x="433.96" y="181.19" width="2.28" height="5.62"/>
<rect x="107.32" y="186.35" width="3.42" height="5.62"/>
<rect x="201.78" y="186.35" width="1.14" height="5.62"/>
<rect x="217.72" y="186.35" width="1.14" height="5.62"/>
<rect x="281.45" y="186.35" width="1.14" height="5.62"/>
<rect x="288.28" y="186.35" width="1.14" height="5.62"/>
<rect x="308.77" y="186.35" width="1.14" height="5.62"/>
<rect x="344.05" y="186.35" width="1.14" height="5.62"/>
<rect x="365.67" y="186.35" width="1.14" height="5.62"/>
<rect x="372.5" y="186.35" width="1.14" height="5.62"/>
<rect x="388.44" y="186.35" width="1.14" height="5.62"/>
<rect x="405.51" y="186.35" width="1.14" height="5.62"/>
<rect x="192.68" y="191.52" width="2.28" height="5.62"/>
<rect x="210.89" y="191.52" width="2.28" height="5.62"/>
<rect x="226.82" y="191.52" width="2.28" height="5.62"/>
<rect x="308.77" y="191.52" width="1.14" height="5.62"/>
<rect x="363.4" y="191.52" width="1.14" height="5.62"/>
<rect x="375.92" y="191.52" width="2.28" height="5.62"/>
<rect x="396.4" y="191.52" width="1.14" height="5.62"/>
<rect x="402.09" y="191.52" width="1.14" height="5.62"/>
<rect x="408.92" y="191.52" width="1.14" height="5.62"/>
<rect x="412.34" y="191.52" width="1.14" height="5.62"/>
<rect x="457.86" y="191.52" width="1.14" height="5.62"/>
<rect x="81.14" y="196.69" width="1.14" height="5.62"/>
<rect x="199.51" y="196.69" width="2.28" height="5.62"/>
<rect x="217.72" y="196.69" width="1.14" height="5.62"/>
<rect x="241.62" y="196.69" width="2.28" height="5.62"/>
<rect x="288.28" y="196.69" width="1.14" height="5.62"/>
<rect x="293.97" y="196.69" width="1.14" height="5.62"/>
<rect x="362.26" y="196.69" width="1.14" height="5.62"/>
<rect x="383.88" y="196.69" width="2.28" height="5.62"/>
<rect x="408.92" y="196.69" width="1.14" height="5.62"/>
<rect x="415.75" y="196.69" width="1.14" height="5.62"/>
<rect x="50.41" y="201.85" width="1.14" height="5.62"/>
<rect x="83.42" y="201.85" width="1.14" height="5.62"/>
<rect x="208.61" y="201.85" width="1.14" height="5.62"/>
<rect x="273.49" y="201.85" width="1.14" height="5.62"/>
<rect x="281.45" y="201.85" width="1.14" height="5.62"/>
<rect x="314.46" y="201.85" width="1.14" height="5.62"/>
<rect x="316.73" y="201.85" width="1.14" height="5.62"/>
<rect x="340.64" y="201.85" width="1.14" height="5.62"/>
<rect x="363.4" y="201.85" width="1.14" height="5.62"/>
<rect x="54.97" y="207.02" width="2.28" height="5.62"/>
<rect x="83.42" y="207.02" width="1.14" height="5.62"/>
<rect x="86.83" y="207.02" width="1.14" height="5.62"/>
<rect x="110.73" y="207.02" width="1.14" height="5.62"/>
<rect x="240.48" y="207.02" width="2.28" height="5.62"/>
<rect x="308.77" y="207.02" width="1.14" height="5.62"/>
<rect x="364.54" y="207.02" width="1.14" height="5.62"/>
<rect x="410.06" y="207.02" width="1.14" height="5.62"/>
<rect x="192.68" y="212.18" width="1.14" height="5.62"/>
<rect x="221.13" y="212.18" width="1.14" height="5.62"/>
<rect x="226.82" y="212.18" width="4.56" height="5.62"/>
<rect x="308.77" y="212.18" width="1.14" height="5.62"/>
<rect x="367.95" y="212.18" width="1.14" height="5.62"/>
<rect x="406.65" y="212.18" width="1.14" height="5.62"/>
<rect x="189.27" y="217.35" width="1.14" height="5.62"/>
<rect x="216.58" y="217.35" width="1.14" height="5.62"/>
<rect x="273.49" y="217.35" width="1.14" height="5.62"/>
<rect x="288.28" y="217.35" width="1.14" height="5.62"/>
<rect x="296.25" y="217.35" width="1.14" height="5.62"/>
<rect x="316.73" y="217.35" width="1.14" height="5.62"/>
<rect x="364.54" y="217.35" width="1.14" height="5.62"/>
<rect x="435.1" y="217.35" width="1.14" height="5.62"/>
<rect x="204.06" y="222.52" width="1.14" height="5.62"/>
<rect x="362.26" y="222.52" width="2.28" height="5.62"/>
<rect x="371.36" y="222.52" width="1.14" height="5.62"/>
<rect x="382.75" y="222.52" width="1.14" height="5.62"/>
<rect x="390.71" y="222.52" width="2.28" height="5.62"/>
<rect x="427.13" y="222.52" width="1.14" height="5.62"/>
<rect x="215.44" y="227.68" width="1.14" height="5.62"/>
<rect x="241.62" y="227.68" width="1.14" height="5.62"/>
<rect x="395.27" y="227.68" width="1.14" height="5.62"/>
<rect x="397.54" y="227.68" width="1.14" height="5.62"/>
<rect x="427.13" y="227.68" width="1.14" height="5.62"/>
<rect x="436.24" y="227.68" width="1.14" height="5.62"/>
<rect x="72.04" y="232.85" width="1.14" height="5.62"/>
<rect x="161.95" y="232.85" width="1.14" height="5.62"/>
<rect x="180.16" y="232.85" width="1.14" height="5.62"/>
<rect x="218.86" y="232.85" width="1.14" height="5.62"/>
<rect x="223.41" y="232.85" width="1.14" height="5.62"/>
<rect x="357.71" y="232.85" width="1.14" height="5.62"/>
<rect x="110.73" y="238.01" width="1.14" height="5.62"/>
<rect x="358.85" y="238.01" width="1.14" height="5.62"/>
<rect x="363.4" y="238.01" width="1.14" height="5.62"/>
<rect x="373.64" y="238.01" width="1.14" height="5.62"/>
<rect x="428.27" y="238.01" width="1.14" height="5.62"/>
<rect x="437.38" y="238.01" width="1.14" height="5.62"/>
<rect x="68.62" y="243.18" width="1.14" height="5.62"/>
<rect x="208.61" y="243.18" width="1.14" height="5.62"/>
<rect x="210.89" y="243.18" width="1.14" height="5.62"/>
<rect x="214.3" y="243.18" width="1.14" height="5.62"/>
<rect x="404.37" y="243.18" width="1.14" height="5.62"/>
<rect x="412.34" y="243.18" width="1.14" height="5.62"/>
<rect x="202.92" y="248.35" width="1.14" height="5.62"/>
<rect x="209.75" y="248.35" width="1.14" height="5.62"/>
<rect x="212.03" y="248.35" width="1.14" height="5.62"/>
<rect x="298.52" y="248.35" width="1.14" height="5.62"/>
<rect x="382.75" y="248.35" width="1.14" height="5.62"/>
<rect x="391.85" y="248.35" width="1.14" height="5.62"/>
<rect x="62.93" y="253.51" width="1.14" height="5.62"/>
<rect x="216.58" y="253.51" width="1.14" height="5.62"/>
<rect x="305.35" y="253.51" width="1.14" height="5.62"/>
<rect x="366.81" y="253.51" width="1.14" height="5.62"/>
<rect x="382.75" y="253.51" width="1.14" height="5.62"/>
<rect x="151.71" y="258.68" width="1.14" height="5.62"/>
<rect x="391.85" y="258.68" width="1.14" height="5.62"/>
<rect x="399.82" y="258.68" width="1.14" height="5.62"/>
<rect x="425.99" y="258.68" width="1.14" height="5.62"/>
<rect x="52.69" y="263.84" width="1.14" height="5.62"/>
<rect x="207.48" y="263.84" width="1.14" height="5.62"/>
<rect x="383.88" y="263.84" width="1.14" height="5.62"/>
<rect x="390.71" y="263.84" width="1.14" height="5.62"/>
<rect x="68.62" y="269.01" width="1.14" height="5.62"/>
<rect x="163.09" y="269.01" width="1.14" height="5.62"/>
<rect x="174.47" y="269.01" width="1.14" height="5.62"/>
<rect x="212.03" y="274.18" width="1.14" height="5.62"/>
<rect x="367.95" y="274.18" width="1.14" height="5.62"/>
<rect x="391.85" y="274.18" width="1.14" height="5.62"/>
<rect x="181.3" y="279.34" width="1.14" height="5.62"/>
<rect x="280.31" y="279.34" width="1.14" height="5.62"/>
<rect x="405.51" y="279.34" width="1.14" height="5.62"/>
<rect x="176.75" y="284.51" width="1.14" height="5.62"/>
<rect x="179.02" y="284.51" width="1.14" height="5.62"/>
<rect x="372.5" y="284.51" width="1.14" height="5.62"/>
<rect x="407.78" y="289.67" width="1.14" height="5.62"/>
<rect x="422.58" y="289.67" width="1.14" height="5.62"/>
<rect x="264.38" y="294.84" width="1.14" height="5.62"/>
<rect x="388.44" y="294.84" width="1.14" height="5.62"/>
<rect x="180.16" y="300.01" width="1.14" height="5.62"/>
<rect x="352.02" y="300.01" width="1.14" height="5.62"/>
<rect x="177.88" y="305.17" width="1.14" height="5.62"/>
<rect x="185.85" y="305.17" width="1.14" height="5.62"/>
<rect x="122.12" y="310.34" width="1.14" height="5.62"/>
<rect x="296.25" y="310.34" width="1.14" height="5.62"/>
<rect x="143.74" y="315.5" width="1.14" height="5.62"/>
<rect x="418.03" y="320.67" width="1.14" height="5.62"/>
<rect x="307.63" y="325.84" width="1.14" height="5.62"/>
<rect x="323.56" y="331" width="1.14" height="5.62"/>
<rect x="77.73" y="336.17" width="1.14" height="5.62"/>
<rect x="322.43" y="341.33" width="1.14" height="5.62"/>
<rect x="356.57" y="346.5" width="1.14" height="5.62"/>
<rect x="380.47" y="351.67" width="1.14" height="5.62"/>
<rect x="185.85" y="356.83" width="1.14" height="5.62"/>
<rect x="181.3" y="362" width="1.14" height="5.62"/>
<rect x="365.67" y="367.16" width="1.14" height="5.62"/>
<rect x="366.81" y="372.33" width="1.14" height="5.62"/>
<rect x="355.43" y="377.5" width="1.14" height="5.62"/>
<rect x="75.45" y="382.66" width="1.14" height="5.62"/>
<rect x="404.37" y="387.83" width="1.14" height="5.62"/>
<rect x="152.85" y="392.99" width="1.14" height="5.62"/>
</g>
<text x="44.2" y="93.08" text-anchor="end" font-size="5.15" font-family="Liberation Sans, sans-serif" fill="#262626" stroke="#262626" stroke-width="0.04">TP53</text>
<text x="460.8" y="92.23" font-size="4.4" font-family="Liberation Sans, sans-serif" fill="#444">31.49</text>
<text x="44.2" y="98.25" text-anchor="end" font-size="5.15" font-family="Liberation Sans, sans-serif" fill="#262626" stroke="#262626" stroke-width="0.04">RAS</text>
<text x="460.8" y="97.4" font-size="4.4" font-family="Liberation Sans, sans-serif" fill="#444">25.97</text>
<text x="44.2" y="103.42" text-anchor="end" font-size="5.15" font-family="Liberation Sans, sans-serif" fill="#262626" stroke="#262626" stroke-width="0.04">DNMT3A</text>
<text x="460.8" y="102.57" font-size="4.4" font-family="Liberation Sans, sans-serif" fill="#444">19.06</text>
<text x="44.2" y="108.58" text-anchor="end" font-size="5.15" font-family="Liberation Sans, sans-serif" fill="#262626" stroke="#262626" stroke-width="0.04">NPM1</text>
<text x="460.8" y="107.73" font-size="4.4" font-family="Liberation Sans, sans-serif" fill="#444">19.06</text>
<text x="44.2" y="113.75" text-anchor="end" font-size="5.15" font-family="Liberation Sans, sans-serif" fill="#262626" stroke="#262626" stroke-width="0.04">TET2</text>
<text x="460.8" y="112.9" font-size="4.4" font-family="Liberation Sans, sans-serif" fill="#444">15.75</text>
<text x="44.2" y="118.91" text-anchor="end" font-size="5.15" font-family="Liberation Sans, sans-serif" fill="#262626" stroke="#262626" stroke-width="0.04">ASXL1</text>
<text x="460.8" y="118.06" font-size="4.4" font-family="Liberation Sans, sans-serif" fill="#444">12.71</text>
<text x="44.2" y="124.08" text-anchor="end" font-size="5.15" font-family="Liberation Sans, sans-serif" fill="#262626" stroke="#262626" stroke-width="0.04">SRSF2</text>
<text x="460.8" y="123.23" font-size="4.4" font-family="Liberation Sans, sans-serif" fill="#444">12.43</text>
<text x="44.2" y="129.25" text-anchor="end" font-size="5.15" font-family="Liberation Sans, sans-serif" fill="#262626" stroke="#262626" stroke-width="0.04">PTPN11</text>
<text x="460.8" y="128.4" font-size="4.4" font-family="Liberation Sans, sans-serif" fill="#444">11.33</text>
<text x="44.2" y="134.41" text-anchor="end" font-size="5.15" font-family="Liberation Sans, sans-serif" fill="#262626" stroke="#262626" stroke-width="0.04">IDH2</text>
<text x="460.8" y="133.56" font-size="4.4" font-family="Liberation Sans, sans-serif" fill="#444">10.77</text>
<text x="44.2" y="139.58" text-anchor="end" font-size="5.15" font-family="Liberation Sans, sans-serif" fill="#262626" stroke="#262626" stroke-width="0.04">RUNX1</text>
<text x="460.8" y="138.73" font-size="4.4" font-family="Liberation Sans, sans-serif" fill="#444">10.5</text>
<text x="44.2" y="144.74" text-anchor="end" font-size="5.15" font-family="Liberation Sans, sans-serif" fill="#262626" stroke="#262626" stroke-width="0.04">FLT3_ITD</text>
<text x="460.8" y="143.89" font-size="4.4" font-family="Liberation Sans, sans-serif" fill="#444">8.56</text>
<text x="44.2" y="149.91" text-anchor="end" font-size="5.15" font-family="Liberation Sans, sans-serif" fill="#262626" stroke="#262626" stroke-width="0.04">IDH1</text>
<text x="460.8" y="149.06" font-size="4.4" font-family="Liberation Sans, sans-serif" fill="#444">8.01</text>
<text x="44.2" y="155.08" text-anchor="end" font-size="5.15" font-family="Liberation Sans, sans-serif" fill="#262626" stroke="#262626" stroke-width="0.04">FLT3_D835</text>
<text x="460.8" y="154.22" font-size="4.4" font-family="Liberation Sans, sans-serif" fill="#444">7.46</text>
<text x="44.2" y="160.24" text-anchor="end" font-size="5.15" font-family="Liberation Sans, sans-serif" fill="#262626" stroke="#262626" stroke-width="0.04">WT1</text>
<text x="460.8" y="159.39" font-size="4.4" font-family="Liberation Sans, sans-serif" fill="#444">5.25</text>
<text x="44.2" y="165.41" text-anchor="end" font-size="5.15" font-family="Liberation Sans, sans-serif" fill="#262626" stroke="#262626" stroke-width="0.04">STAG2</text>
<text x="460.8" y="164.56" font-size="4.4" font-family="Liberation Sans, sans-serif" fill="#444">4.97</text>
<text x="44.2" y="170.57" text-anchor="end" font-size="5.15" font-family="Liberation Sans, sans-serif" fill="#262626" stroke="#262626" stroke-width="0.04">U2AF1</text>
<text x="460.8" y="169.72" font-size="4.4" font-family="Liberation Sans, sans-serif" fill="#444">4.97</text>
<text x="44.2" y="175.74" text-anchor="end" font-size="5.15" font-family="Liberation Sans, sans-serif" fill="#262626" stroke="#262626" stroke-width="0.04">JAK2</text>
<text x="460.8" y="174.89" font-size="4.4" font-family="Liberation Sans, sans-serif" fill="#444">4.7</text>
<text x="44.2" y="180.91" text-anchor="end" font-size="5.15" font-family="Liberation Sans, sans-serif" fill="#262626" stroke="#262626" stroke-width="0.04">KIT</text>
<text x="460.8" y="180.05" font-size="4.4" font-family="Liberation Sans, sans-serif" fill="#444">3.87</text>
<text x="44.2" y="186.07" text-anchor="end" font-size="5.15" font-family="Liberation Sans, sans-serif" fill="#262626" stroke="#262626" stroke-width="0.04">bZIP_CEBPA</text>
<text x="460.8" y="185.22" font-size="4.4" font-family="Liberation Sans, sans-serif" fill="#444">3.87</text>
<text x="44.2" y="191.24" text-anchor="end" font-size="5.15" font-family="Liberation Sans, sans-serif" fill="#262626" stroke="#262626" stroke-width="0.04">SF3B1</text>
<text x="460.8" y="190.39" font-size="4.4" font-family="Liberation Sans, sans-serif" fill="#444">3.59</text>
<text x="44.2" y="196.4" text-anchor="end" font-size="5.15" font-family="Liberation Sans, sans-serif" fill="#262626" stroke="#262626" stroke-width="0.04">BCOR</text>
<text x="460.8" y="195.55" font-size="4.4" font-family="Liberation Sans, sans-serif" fill="#444">3.31</text>
<text x="44.2" y="201.57" text-anchor="end" font-size="5.15" font-family="Liberation Sans, sans-serif" fill="#262626" stroke="#262626" stroke-width="0.04">PHF6</text>
<text x="460.8" y="200.72" font-size="4.4" font-family="Liberation Sans, sans-serif" fill="#444">2.76</text>
<text x="44.2" y="206.74" text-anchor="end" font-size="5.15" font-family="Liberation Sans, sans-serif" fill="#262626" stroke="#262626" stroke-width="0.04">GATA2</text>
<text x="460.8" y="205.89" font-size="4.4" font-family="Liberation Sans, sans-serif" fill="#444">2.49</text>
<text x="44.2" y="211.9" text-anchor="end" font-size="5.15" font-family="Liberation Sans, sans-serif" fill="#262626" stroke="#262626" stroke-width="0.04">NF1</text>
<text x="460.8" y="211.05" font-size="4.4" font-family="Liberation Sans, sans-serif" fill="#444">2.49</text>
<text x="44.2" y="217.07" text-anchor="end" font-size="5.15" font-family="Liberation Sans, sans-serif" fill="#262626" stroke="#262626" stroke-width="0.04">BCORL1</text>
<text x="460.8" y="216.22" font-size="4.4" font-family="Liberation Sans, sans-serif" fill="#444">2.21</text>
<text x="44.2" y="222.23" text-anchor="end" font-size="5.15" font-family="Liberation Sans, sans-serif" fill="#262626" stroke="#262626" stroke-width="0.04">CBL</text>
<text x="460.8" y="221.38" font-size="4.4" font-family="Liberation Sans, sans-serif" fill="#444">2.21</text>
<text x="44.2" y="227.4" text-anchor="end" font-size="5.15" font-family="Liberation Sans, sans-serif" fill="#262626" stroke="#262626" stroke-width="0.04">EZH2</text>
<text x="460.8" y="226.55" font-size="4.4" font-family="Liberation Sans, sans-serif" fill="#444">2.21</text>
<text x="44.2" y="232.57" text-anchor="end" font-size="5.15" font-family="Liberation Sans, sans-serif" fill="#262626" stroke="#262626" stroke-width="0.04">ASXL2</text>
<text x="460.8" y="231.72" font-size="4.4" font-family="Liberation Sans, sans-serif" fill="#444">1.66</text>
<text x="44.2" y="237.73" text-anchor="end" font-size="5.15" font-family="Liberation Sans, sans-serif" fill="#262626" stroke="#262626" stroke-width="0.04">BRAF</text>
<text x="460.8" y="236.88" font-size="4.4" font-family="Liberation Sans, sans-serif" fill="#444">1.66</text>
<text x="44.2" y="242.9" text-anchor="end" font-size="5.15" font-family="Liberation Sans, sans-serif" fill="#262626" stroke="#262626" stroke-width="0.04">CREBBP</text>
<text x="460.8" y="242.05" font-size="4.4" font-family="Liberation Sans, sans-serif" fill="#444">1.66</text>
<text x="44.2" y="248.06" text-anchor="end" font-size="5.15" font-family="Liberation Sans, sans-serif" fill="#262626" stroke="#262626" stroke-width="0.04">IKZF1</text>
<text x="460.8" y="247.21" font-size="4.4" font-family="Liberation Sans, sans-serif" fill="#444">1.66</text>
<text x="44.2" y="253.23" text-anchor="end" font-size="5.15" font-family="Liberation Sans, sans-serif" fill="#262626" stroke="#262626" stroke-width="0.04">SETBP1</text>
<text x="460.8" y="252.38" font-size="4.4" font-family="Liberation Sans, sans-serif" fill="#444">1.66</text>
<text x="44.2" y="258.4" text-anchor="end" font-size="5.15" font-family="Liberation Sans, sans-serif" fill="#262626" stroke="#262626" stroke-width="0.04">SMC1A</text>
<text x="460.8" y="257.55" font-size="4.4" font-family="Liberation Sans, sans-serif" fill="#444">1.38</text>
<text x="44.2" y="263.56" text-anchor="end" font-size="5.15" font-family="Liberation Sans, sans-serif" fill="#262626" stroke="#262626" stroke-width="0.04">DDX41</text>
<text x="460.8" y="262.71" font-size="4.4" font-family="Liberation Sans, sans-serif" fill="#444">1.1</text>
<text x="44.2" y="268.73" text-anchor="end" font-size="5.15" font-family="Liberation Sans, sans-serif" fill="#262626" stroke="#262626" stroke-width="0.04">ZRSR2</text>
<text x="460.8" y="267.88" font-size="4.4" font-family="Liberation Sans, sans-serif" fill="#444">1.1</text>
<text x="44.2" y="273.89" text-anchor="end" font-size="5.15" font-family="Liberation Sans, sans-serif" fill="#262626" stroke="#262626" stroke-width="0.04">CALR</text>
<text x="460.8" y="273.04" font-size="4.4" font-family="Liberation Sans, sans-serif" fill="#444">0.83</text>
<text x="44.2" y="279.06" text-anchor="end" font-size="5.15" font-family="Liberation Sans, sans-serif" fill="#262626" stroke="#262626" stroke-width="0.04">CUX1</text>
<text x="460.8" y="278.21" font-size="4.4" font-family="Liberation Sans, sans-serif" fill="#444">0.83</text>
<text x="44.2" y="284.23" text-anchor="end" font-size="5.15" font-family="Liberation Sans, sans-serif" fill="#262626" stroke="#262626" stroke-width="0.04">RAD21</text>
<text x="460.8" y="283.38" font-size="4.4" font-family="Liberation Sans, sans-serif" fill="#444">0.83</text>
<text x="44.2" y="289.39" text-anchor="end" font-size="5.15" font-family="Liberation Sans, sans-serif" fill="#262626" stroke="#262626" stroke-width="0.04">SMC3</text>
<text x="460.8" y="288.54" font-size="4.4" font-family="Liberation Sans, sans-serif" fill="#444">0.83</text>
<text x="44.2" y="294.56" text-anchor="end" font-size="5.15" font-family="Liberation Sans, sans-serif" fill="#262626" stroke="#262626" stroke-width="0.04">CSF3R</text>
<text x="460.8" y="293.71" font-size="4.4" font-family="Liberation Sans, sans-serif" fill="#444">0.55</text>
<text x="44.2" y="299.72" text-anchor="end" font-size="5.15" font-family="Liberation Sans, sans-serif" fill="#262626" stroke="#262626" stroke-width="0.04">ETNK1</text>
<text x="460.8" y="298.87" font-size="4.4" font-family="Liberation Sans, sans-serif" fill="#444">0.55</text>
<text x="44.2" y="304.89" text-anchor="end" font-size="5.15" font-family="Liberation Sans, sans-serif" fill="#262626" stroke="#262626" stroke-width="0.04">HNRNPK</text>
<text x="460.8" y="304.04" font-size="4.4" font-family="Liberation Sans, sans-serif" fill="#444">0.55</text>
<text x="44.2" y="310.06" text-anchor="end" font-size="5.15" font-family="Liberation Sans, sans-serif" fill="#262626" stroke="#262626" stroke-width="0.04">STAG1</text>
<text x="460.8" y="309.21" font-size="4.4" font-family="Liberation Sans, sans-serif" fill="#444">0.55</text>
<text x="44.2" y="315.22" text-anchor="end" font-size="5.15" font-family="Liberation Sans, sans-serif" fill="#262626" stroke="#262626" stroke-width="0.04">STAT5A</text>
<text x="460.8" y="314.37" font-size="4.4" font-family="Liberation Sans, sans-serif" fill="#444">0.55</text>
<text x="44.2" y="320.39" text-anchor="end" font-size="5.15" font-family="Liberation Sans, sans-serif" fill="#262626" stroke="#262626" stroke-width="0.04">BRINP3</text>
<text x="460.8" y="319.54" font-size="4.4" font-family="Liberation Sans, sans-serif" fill="#444">0.28</text>
<text x="44.2" y="325.55" text-anchor="end" font-size="5.15" font-family="Liberation Sans, sans-serif" fill="#262626" stroke="#262626" stroke-width="0.04">EED</text>
<text x="460.8" y="324.7" font-size="4.4" font-family="Liberation Sans, sans-serif" fill="#444">0.28</text>
<text x="44.2" y="330.72" text-anchor="end" font-size="5.15" font-family="Liberation Sans, sans-serif" fill="#262626" stroke="#262626" stroke-width="0.04">ETV6</text>
<text x="460.8" y="329.87" font-size="4.4" font-family="Liberation Sans, sans-serif" fill="#444">0.28</text>
<text x="44.2" y="335.89" text-anchor="end" font-size="5.15" font-family="Liberation Sans, sans-serif" fill="#262626" stroke="#262626" stroke-width="0.04">FBXW7</text>
<text x="460.8" y="335.04" font-size="4.4" font-family="Liberation Sans, sans-serif" fill="#444">0.28</text>
<text x="44.2" y="341.05" text-anchor="end" font-size="5.15" font-family="Liberation Sans, sans-serif" fill="#262626" stroke="#262626" stroke-width="0.04">GATA1</text>
<text x="460.8" y="340.2" font-size="4.4" font-family="Liberation Sans, sans-serif" fill="#444">0.28</text>
<text x="44.2" y="346.22" text-anchor="end" font-size="5.15" font-family="Liberation Sans, sans-serif" fill="#262626" stroke="#262626" stroke-width="0.04">GNAS</text>
<text x="460.8" y="345.37" font-size="4.4" font-family="Liberation Sans, sans-serif" fill="#444">0.28</text>
<text x="44.2" y="351.38" text-anchor="end" font-size="5.15" font-family="Liberation Sans, sans-serif" fill="#262626" stroke="#262626" stroke-width="0.04">KMT2A</text>
<text x="460.8" y="350.53" font-size="4.4" font-family="Liberation Sans, sans-serif" fill="#444">0.28</text>
<text x="44.2" y="356.55" text-anchor="end" font-size="5.15" font-family="Liberation Sans, sans-serif" fill="#262626" stroke="#262626" stroke-width="0.04">MPL</text>
<text x="460.8" y="355.7" font-size="4.4" font-family="Liberation Sans, sans-serif" fill="#444">0.28</text>
<text x="44.2" y="361.72" text-anchor="end" font-size="5.15" font-family="Liberation Sans, sans-serif" fill="#262626" stroke="#262626" stroke-width="0.04">NOTCH1</text>
<text x="460.8" y="360.87" font-size="4.4" font-family="Liberation Sans, sans-serif" fill="#444">0.28</text>
<text x="44.2" y="366.88" text-anchor="end" font-size="5.15" font-family="Liberation Sans, sans-serif" fill="#262626" stroke="#262626" stroke-width="0.04">PRPF40B</text>
<text x="460.8" y="366.03" font-size="4.4" font-family="Liberation Sans, sans-serif" fill="#444">0.28</text>
<text x="44.2" y="372.05" text-anchor="end" font-size="5.15" font-family="Liberation Sans, sans-serif" fill="#262626" stroke="#262626" stroke-width="0.04">SF1</text>
<text x="460.8" y="371.2" font-size="4.4" font-family="Liberation Sans, sans-serif" fill="#444">0.28</text>
<text x="44.2" y="377.21" text-anchor="end" font-size="5.15" font-family="Liberation Sans, sans-serif" fill="#262626" stroke="#262626" stroke-width="0.04">SH2B3</text>
<text x="460.8" y="376.36" font-size="4.4" font-family="Liberation Sans, sans-serif" fill="#444">0.28</text>
<text x="44.2" y="382.38" text-anchor="end" font-size="5.15" font-family="Liberation Sans, sans-serif" fill="#262626" stroke="#262626" stroke-width="0.04">STAT3</text>
<text x="460.8" y="381.53" font-size="4.4" font-family="Liberation Sans, sans-serif" fill="#444">0.28</text>
<text x="44.2" y="387.55" text-anchor="end" font-size="5.15" font-family="Liberation Sans, sans-serif" fill="#262626" stroke="#262626" stroke-width="0.04">SUZ12</text>
<text x="460.8" y="386.7" font-size="4.4" font-family="Liberation Sans, sans-serif" fill="#444">0.28</text>
<text x="44.2" y="392.71" text-anchor="end" font-size="5.15" font-family="Liberation Sans, sans-serif" fill="#262626" stroke="#262626" stroke-width="0.04">TERT</text>
<text x="460.8" y="391.86" font-size="4.4" font-family="Liberation Sans, sans-serif" fill="#444">0.28</text>
<text x="44.2" y="397.88" text-anchor="end" font-size="5.15" font-family="Liberation Sans, sans-serif" fill="#262626" stroke="#262626" stroke-width="0.04">U2AF2</text>
<text x="460.8" y="397.03" font-size="4.4" font-family="Liberation Sans, sans-serif" fill="#444">0.28</text>
<g fill="#606060">
<rect x="475.3" y="89.08" width="31.12" height="3.4"/>
<rect x="475.3" y="94.25" width="25.66" height="3.4"/>
<rect x="475.3" y="99.42" width="18.84" height="3.4"/>
<rect x="475.3" y="104.58" width="18.84" height="3.4"/>
<rect x="475.3" y="109.75" width="15.56" height="3.4"/>
<rect x="475.3" y="114.91" width="12.56" height="3.4"/>
<rect x="475.3" y="120.08" width="12.29" height="3.4"/>
<rect x="475.3" y="125.25" width="11.19" height="3.4"/>
<rect x="475.3" y="130.41" width="10.65" height="3.4"/>
<rect x="475.3" y="135.58" width="10.37" height="3.4"/>
<rect x="475.3" y="140.74" width="8.46" height="3.4"/>
<rect x="475.3" y="145.91" width="7.92" height="3.4"/>
<rect x="475.3" y="151.08" width="7.37" height="3.4"/>
<rect x="475.3" y="156.24" width="5.19" height="3.4"/>
<rect x="475.3" y="161.41" width="4.91" height="3.4"/>
<rect x="475.3" y="166.57" width="4.91" height="3.4"/>
<rect x="475.3" y="171.74" width="4.64" height="3.4"/>
<rect x="475.3" y="176.91" width="3.82" height="3.4"/>
<rect x="475.3" y="182.07" width="3.82" height="3.4"/>
<rect x="475.3" y="187.24" width="3.55" height="3.4"/>
<rect x="475.3" y="192.4" width="3.28" height="3.4"/>
<rect x="475.3" y="197.57" width="2.73" height="3.4"/>
<rect x="475.3" y="202.74" width="2.46" height="3.4"/>
<rect x="475.3" y="207.9" width="2.46" height="3.4"/>
<rect x="475.3" y="213.07" width="2.18" height="3.4"/>
<rect x="475.3" y="218.23" width="2.18" height="3.4"/>
<rect x="475.3" y="223.4" width="2.18" height="3.4"/>
<rect x="475.3" y="228.57" width="1.64" height="3.4"/>
<rect x="475.3" y="233.73" width="1.64" height="3.4"/>
<rect x="475.3" y="238.9" width="1.64" height="3.4"/>
<rect x="475.3" y="244.06" width="1.64" height="3.4"/>
<rect x="475.3" y="249.23" width="1.64" height="3.4"/>
<rect x="475.3" y="254.4" width="1.37" height="3.4"/>
<rect x="475.3" y="259.56" width="1.09" height="3.4"/>
<rect x="475.3" y="264.73" width="1.09" height="3.4"/>
<rect x="475.3" y="269.89" width="0.82" height="3.4"/>
<rect x="475.3" y="275.06" width="0.82" height="3.4"/>
<rect x="475.3" y="280.23" width="0.82" height="3.4"/>
<rect x="475.3" y="285.39" width="0.82" height="3.4"/>
<rect x="475.3" y="290.56" width="0.55" height="3.4"/>
<rect x="475.3" y="295.72" width="0.55" height="3.4"/>
<rect x="475.3" y="300.89" width="0.55" height="3.4"/>
<rect x="475.3" y="306.06" width="0.55" height="3.4"/>
<rect x="475.3" y="311.22" width="0.55" height="3.4"/>
<rect x="475.3" y="316.39" width="0.27" height="3.4"/>
<rect x="475.3" y="321.55" width="0.27" height="3.4"/>
<rect x="475.3" y="326.72" width="0.27" height="3.4"/>
<rect x="475.3" y="331.89" width="0.27" height="3.4"/>
<rect x="475.3" y="337.05" width="0.27" height="3.4"/>
<rect x="475.3" y="342.22" width="0.27" height="3.4"/>
<rect x="475.3" y="347.38" width="0.27" height="3.4"/>
<rect x="475.3" y="352.55" width="0.27" height="3.4"/>
<rect x="475.3" y="357.72" width="0.27" height="3.4"/>
<rect x="475.3" y="362.88" width="0.27" height="3.4"/>
<rect x="475.3" y="368.05" width="0.27" height="3.4"/>
<rect x="475.3" y="373.21" width="0.27" height="3.4"/>
<rect x="475.3" y="378.38" width="0.27" height="3.4"/>
<rect x="475.3" y="383.55" width="0.27" height="3.4"/>
<rect x="475.3" y="388.71" width="0.27" height="3.4"/>
<rect x="475.3" y="393.88" width="0.27" height="3.4"/>
</g>
<line x1="475.1" y1="88.2" x2="475.1" y2="398.8" stroke="#222" stroke-width="1"/>
<line x1="474.7" y1="398.3" x2="507.8" y2="398.3" stroke="#222" stroke-width="0.9"/>
<line x1="475.1" y1="398.3" x2="475.1" y2="401.7" stroke="#222" stroke-width="0.8"/>
<text transform="translate(475.70000000000005,403) rotate(-90)" text-anchor="end" font-size="4.1" font-family="Liberation Sans, sans-serif" fill="#666" stroke="#666" stroke-width="0.1">0</text>
<line x1="488.8" y1="398.3" x2="488.8" y2="401.7" stroke="#222" stroke-width="0.8"/>
<text transform="translate(489.40000000000003,403) rotate(-90)" text-anchor="end" font-size="4.1" font-family="Liberation Sans, sans-serif" fill="#666" stroke="#666" stroke-width="0.1">50</text>
<line x1="502.3" y1="398.3" x2="502.3" y2="401.7" stroke="#222" stroke-width="0.8"/>
<text transform="translate(502.90000000000003,403) rotate(-90)" text-anchor="end" font-size="4.1" font-family="Liberation Sans, sans-serif" fill="#666" stroke="#666" stroke-width="0.1">100</text>
<text x="110.8" y="413.1" font-size="6.4" font-family="Liberation Sans, sans-serif" fill="#1c1c1c" stroke="#1c1c1c" stroke-width="0.1">Mutation</text>
<rect x="110.8" y="416.6" width="5.8" height="5.8" fill="#a8393a"/>
<text x="119.7" y="421.6" font-size="6.4" font-family="Liberation Sans, sans-serif" fill="#1c1c1c" stroke="#1c1c1c" stroke-width="0.1">Yes</text>
<rect x="110.8" y="425.05" width="5.8" height="5.8" fill="#d6dcdf"/>
<text x="119.7" y="430.05" font-size="6.4" font-family="Liberation Sans, sans-serif" fill="#1c1c1c" stroke="#1c1c1c" stroke-width="0.1">No</text>
<text x="148.5" y="413.1" font-size="6.4" font-family="Liberation Sans, sans-serif" fill="#1c1c1c" stroke="#1c1c1c" stroke-width="0.1">Intensity</text>
<rect x="148.5" y="416.6" width="5.8" height="5.8" fill="#7fc12c"/>
<text x="157.6" y="421.6" font-size="6.4" font-family="Liberation Sans, sans-serif" fill="#1c1c1c" stroke="#1c1c1c" stroke-width="0.1">Intensive</text>
<rect x="148.5" y="425.05" width="5.8" height="5.8" fill="#ea871c"/>
<text x="157.6" y="430.05" font-size="6.4" font-family="Liberation Sans, sans-serif" fill="#1c1c1c" stroke="#1c1c1c" stroke-width="0.1">Nonintensive</text>
<text x="211.6" y="413.1" font-size="6.4" font-family="Liberation Sans, sans-serif" fill="#1c1c1c" stroke="#1c1c1c" stroke-width="0.1">ELN</text>
<rect x="211.3" y="416.6" width="5.8" height="5.8" fill="#f1b4c6"/>
<text x="220.5" y="421.6" font-size="6.4" font-family="Liberation Sans, sans-serif" fill="#1c1c1c" stroke="#1c1c1c" stroke-width="0.1">Favorable</text>
<rect x="211.3" y="425.05" width="5.8" height="5.8" fill="#f2e08e"/>
<text x="220.5" y="430.05" font-size="6.4" font-family="Liberation Sans, sans-serif" fill="#1c1c1c" stroke="#1c1c1c" stroke-width="0.1">Intermediate</text>
<rect x="211.3" y="433.5" width="5.8" height="5.8" fill="#b9dfe3"/>
<text x="220.5" y="438.5" font-size="6.4" font-family="Liberation Sans, sans-serif" fill="#1c1c1c" stroke="#1c1c1c" stroke-width="0.1">Adverse</text>
<rect x="211.3" y="441.95" width="5.8" height="5.8" fill="#55555c"/>
<text x="220.5" y="446.95" font-size="6.4" font-family="Liberation Sans, sans-serif" fill="#1c1c1c" stroke="#1c1c1c" stroke-width="0.1">NA</text>
<text x="269.6" y="413.1" font-size="6.4" font-family="Liberation Sans, sans-serif" fill="#1c1c1c" stroke="#1c1c1c" stroke-width="0.1">DeNovoAML</text>
<rect x="269.2" y="416.6" width="5.8" height="5.8" fill="#3c7bc2"/>
<text x="278.8" y="421.6" font-size="6.4" font-family="Liberation Sans, sans-serif" fill="#1c1c1c" stroke="#1c1c1c" stroke-width="0.1">Yes</text>
<rect x="269.2" y="425.05" width="5.8" height="5.8" fill="#d9d9dc"/>
<text x="278.8" y="430.05" font-size="6.4" font-family="Liberation Sans, sans-serif" fill="#1c1c1c" stroke="#1c1c1c" stroke-width="0.1">No</text>
<text x="319.2" y="413.1" font-size="6.4" font-family="Liberation Sans, sans-serif" fill="#1c1c1c" stroke="#1c1c1c" stroke-width="0.1">Cytogenetic group</text>
<rect x="318.8" y="416.6" width="5.8" height="5.8" fill="#f8d68c"/>
<text x="327.8" y="421.6" font-size="6.4" font-family="Liberation Sans, sans-serif" fill="#1c1c1c" stroke="#1c1c1c" stroke-width="0.1">Favorable</text>
<rect x="318.8" y="425.05" width="5.8" height="5.8" fill="#7e57b0"/>
<text x="327.8" y="430.05" font-size="6.4" font-family="Liberation Sans, sans-serif" fill="#1c1c1c" stroke="#1c1c1c" stroke-width="0.1">Diploid</text>
<rect x="318.8" y="433.5" width="5.8" height="5.8" fill="#8ec6e6"/>
<text x="327.8" y="438.5" font-size="6.4" font-family="Liberation Sans, sans-serif" fill="#1c1c1c" stroke="#1c1c1c" stroke-width="0.1">Other intermediate</text>
<rect x="318.8" y="441.95" width="5.8" height="5.8" fill="#e0101e"/>
<text x="327.8" y="446.95" font-size="6.4" font-family="Liberation Sans, sans-serif" fill="#1c1c1c" stroke="#1c1c1c" stroke-width="0.1">Complex/Adverse</text>
<rect x="318.8" y="450.4" width="5.8" height="5.8" fill="#3a9a40"/>
<text x="327.8" y="455.4" font-size="6.4" font-family="Liberation Sans, sans-serif" fill="#1c1c1c" stroke="#1c1c1c" stroke-width="0.1">Insufficient metaphases</text>
<line x1="40.9" y1="580.3" x2="137.5" y2="580.3" stroke="#c8c8c8" stroke-width="0.6"/>
<line x1="79.8" y1="495.8" x2="79.8" y2="580.7" stroke="#e68282" stroke-width="1.1" stroke-dasharray="1.2,1.6"/>
<rect x="136.8" y="498.76" width="1.3" height="81.44" fill="#4aa898"/>
<rect x="135.3" y="575.21" width="1.5" height="4.99" fill="#4aa898"/>
<rect x="134.2" y="578.54" width="1.1" height="1.66" fill="#4aa898"/>
<line x1="36.2" y1="494.6" x2="36.2" y2="584.9" stroke="#111" stroke-width="0.9"/>
<line x1="35.8" y1="584.5" x2="143" y2="584.5" stroke="#111" stroke-width="0.9"/>
<line x1="34" y1="580.2" x2="36.2" y2="580.2" stroke="#111" stroke-width="0.7"/>
<text x="30.4" y="582.4" text-anchor="end" font-size="6.3" font-family="Liberation Sans, sans-serif" fill="#222" stroke="#222" stroke-width="0.14">0</text>
<line x1="34" y1="559.43" x2="36.2" y2="559.43" stroke="#111" stroke-width="0.7"/>
<text x="30.4" y="561.63" text-anchor="end" font-size="6.3" font-family="Liberation Sans, sans-serif" fill="#222" stroke="#222" stroke-width="0.14">50</text>
<line x1="34" y1="538.65" x2="36.2" y2="538.65" stroke="#111" stroke-width="0.7"/>
<text x="30.4" y="540.85" text-anchor="end" font-size="6.3" font-family="Liberation Sans, sans-serif" fill="#222" stroke="#222" stroke-width="0.14">100</text>
<line x1="34" y1="517.88" x2="36.2" y2="517.88" stroke="#111" stroke-width="0.7"/>
<text x="30.4" y="520.08" text-anchor="end" font-size="6.3" font-family="Liberation Sans, sans-serif" fill="#222" stroke="#222" stroke-width="0.14">150</text>
<line x1="34" y1="497.1" x2="36.2" y2="497.1" stroke="#111" stroke-width="0.7"/>
<text x="30.4" y="499.3" text-anchor="end" font-size="6.3" font-family="Liberation Sans, sans-serif" fill="#222" stroke="#222" stroke-width="0.14">200</text>
<line x1="51" y1="584.5" x2="51" y2="587.2" stroke="#111" stroke-width="0.7"/>
<text x="51" y="595.9" text-anchor="middle" font-size="6.3" font-family="Liberation Sans, sans-serif" fill="#222" stroke="#222" stroke-width="0.14">25</text>
<line x1="79.8" y1="584.5" x2="79.8" y2="587.2" stroke="#111" stroke-width="0.7"/>
<text x="79.8" y="595.9" text-anchor="middle" font-size="6.3" font-family="Liberation Sans, sans-serif" fill="#222" stroke="#222" stroke-width="0.14">50</text>
<line x1="108.6" y1="584.5" x2="108.6" y2="587.2" stroke="#111" stroke-width="0.7"/>
<text x="108.6" y="595.9" text-anchor="middle" font-size="6.3" font-family="Liberation Sans, sans-serif" fill="#222" stroke="#222" stroke-width="0.14">75</text>
<line x1="137.4" y1="584.5" x2="137.4" y2="587.2" stroke="#111" stroke-width="0.7"/>
<text x="137.4" y="595.9" text-anchor="middle" font-size="6.3" font-family="Liberation Sans, sans-serif" fill="#222" stroke="#222" stroke-width="0.14">100</text>
<text x="94.5" y="608.8" text-anchor="middle" font-size="6.6" font-family="Liberation Sans, sans-serif" fill="#222" stroke="#222" stroke-width="0.14">Overall detectability (%)</text>
<text transform="translate(13.3,538.7) rotate(-90)" text-anchor="middle" font-size="6.4" font-family="Liberation Sans, sans-serif" fill="#222" stroke="#222" stroke-width="0.14">Frequency</text>
<text transform="translate(87.6,537.2) rotate(-90)" text-anchor="middle" font-size="6.4" font-family="Liberation Sans, sans-serif" fill="#d63c3c">Detectability = 50%</text>
<text x="94.8" y="504.2" font-size="6.4" font-family="Liberation Sans, sans-serif" fill="#222" stroke="#222" stroke-width="0.1">mean = 97.3</text>
<line x1="181.9" y1="545.3" x2="513" y2="545.3" stroke="#e06a6a" stroke-width="0.6" stroke-dasharray="2.2,1.8"/>
<text x="185.3" y="553.4" font-size="6.45" font-family="Liberation Sans, sans-serif" fill="#d63c3c">Detectability = 50%</text>
<path d="M181.9,493.1 L400,493.3 L455,493.8 L465.2,494.3 L472,495.2 L477,496.5 L482.2,498.6 L487.3,501.1 L491.5,503.7 L494.9,506.2" fill="none" stroke="#111" stroke-width="1.2"/>
<rect x="495.85" y="506.35" width="1.5" height="1.5" fill="#222"/>
<rect x="496.65" y="513.95" width="1.5" height="1.5" fill="#222"/>
<rect x="497.85" y="515.85" width="1.5" height="1.5" fill="#222"/>
<rect x="498.75" y="517.35" width="1.5" height="1.5" fill="#222"/>
<rect x="500.95" y="525.85" width="1.5" height="1.5" fill="#222"/>
<rect x="502.65" y="529.25" width="1.5" height="1.5" fill="#222"/>
<rect x="504.35" y="530.05" width="1.5" height="1.5" fill="#222"/>
<rect x="506.05" y="541.15" width="1.5" height="1.5" fill="#222"/>
<rect x="507.75" y="543.65" width="1.5" height="1.5" fill="#222"/>
<rect x="508.55" y="547.95" width="1.5" height="1.5" fill="#222"/>
<rect x="509.95" y="556.95" width="1.5" height="1.5" fill="#222"/>
<rect x="511.15" y="579.35" width="1.5" height="1.5" fill="#222"/>
<line x1="181.9" y1="488.8" x2="181.9" y2="585" stroke="#111" stroke-width="0.9"/>
<line x1="181.5" y1="584.7" x2="513" y2="584.7" stroke="#111" stroke-width="0.9"/>
<line x1="179.7" y1="571.3" x2="181.9" y2="571.3" stroke="#111" stroke-width="0.7"/>
<text x="176.2" y="573.5" text-anchor="end" font-size="6.2" font-family="Liberation Sans, sans-serif" fill="#222" stroke="#222" stroke-width="0.14">25</text>
<line x1="179.7" y1="545.3" x2="181.9" y2="545.3" stroke="#111" stroke-width="0.7"/>
<text x="176.2" y="547.5" text-anchor="end" font-size="6.2" font-family="Liberation Sans, sans-serif" fill="#222" stroke="#222" stroke-width="0.14">50</text>
<line x1="179.7" y1="519.3" x2="181.9" y2="519.3" stroke="#111" stroke-width="0.7"/>
<text x="176.2" y="521.5" text-anchor="end" font-size="6.2" font-family="Liberation Sans, sans-serif" fill="#222" stroke="#222" stroke-width="0.14">75</text>
<line x1="179.7" y1="493.3" x2="181.9" y2="493.3" stroke="#111" stroke-width="0.7"/>
<text x="176.2" y="495.5" text-anchor="end" font-size="6.2" font-family="Liberation Sans, sans-serif" fill="#222" stroke="#222" stroke-width="0.14">100</text>
<text transform="translate(159.6,532.8) rotate(-90)" text-anchor="middle" font-size="6.6" font-family="Liberation Sans, sans-serif" fill="#222" stroke="#222" stroke-width="0.14">Overall detectability (%)</text>
<g stroke="#d2d2d2" stroke-width="0.4">
<line x1="182.6" y1="586" x2="182.6" y2="590"/>
<line x1="183.52" y1="586" x2="183.52" y2="591.5"/>
<line x1="184.44" y1="586" x2="184.44" y2="591.5"/>
<line x1="185.36" y1="586" x2="185.36" y2="590"/>
<line x1="186.28" y1="586" x2="186.28" y2="590.5"/>
<line x1="187.2" y1="586" x2="187.2" y2="591.5"/>
<line x1="188.12" y1="586" x2="188.12" y2="591"/>
<line x1="189.04" y1="586" x2="189.04" y2="592"/>
<line x1="189.96" y1="586" x2="189.96" y2="591.5"/>
<line x1="190.88" y1="586" x2="190.88" y2="589"/>
<line x1="191.8" y1="586" x2="191.8" y2="591.5"/>
<line x1="192.72" y1="586" x2="192.72" y2="589"/>
<line x1="193.64" y1="586" x2="193.64" y2="591"/>
<line x1="194.56" y1="586" x2="194.56" y2="590.5"/>
<line x1="195.48" y1="586" x2="195.48" y2="591.5"/>
<line x1="196.4" y1="586" x2="196.4" y2="590"/>
<line x1="197.32" y1="586" x2="197.32" y2="590"/>
<line x1="198.24" y1="586" x2="198.24" y2="592"/>
<line x1="199.16" y1="586" x2="199.16" y2="591"/>
<line x1="200.08" y1="586" x2="200.08" y2="591.5"/>
<line x1="201" y1="586" x2="201" y2="591.5"/>
<line x1="201.92" y1="586" x2="201.92" y2="591"/>
<line x1="202.84" y1="586" x2="202.84" y2="591"/>
<line x1="203.76" y1="586" x2="203.76" y2="592"/>
<line x1="204.68" y1="586" x2="204.68" y2="590"/>
<line x1="205.6" y1="586" x2="205.6" y2="590"/>
<line x1="206.52" y1="586" x2="206.52" y2="592"/>
<line x1="207.44" y1="586" x2="207.44" y2="590"/>
<line x1="208.36" y1="586" x2="208.36" y2="591.5"/>
<line x1="209.28" y1="586" x2="209.28" y2="591"/>
<line x1="210.2" y1="586" x2="210.2" y2="592"/>
<line x1="211.12" y1="586" x2="211.12" y2="589"/>
<line x1="212.04" y1="586" x2="212.04" y2="592"/>
<line x1="212.96" y1="586" x2="212.96" y2="589"/>
<line x1="213.88" y1="586" x2="213.88" y2="590"/>
<line x1="214.8" y1="586" x2="214.8" y2="591.5"/>
<line x1="215.72" y1="586" x2="215.72" y2="589"/>
<line x1="216.64" y1="586" x2="216.64" y2="590.5"/>
<line x1="217.56" y1="586" x2="217.56" y2="589"/>
<line x1="218.48" y1="586" x2="218.48" y2="590.5"/>
<line x1="219.4" y1="586" x2="219.4" y2="591"/>
<line x1="220.32" y1="586" x2="220.32" y2="591.5"/>
<line x1="221.24" y1="586" x2="221.24" y2="592"/>
<line x1="222.16" y1="586" x2="222.16" y2="591"/>
<line x1="223.08" y1="586" x2="223.08" y2="592"/>
<line x1="224" y1="586" x2="224" y2="591"/>
<line x1="224.92" y1="586" x2="224.92" y2="591"/>
<line x1="225.84" y1="586" x2="225.84" y2="592"/>
<line x1="226.76" y1="586" x2="226.76" y2="591.5"/>
<line x1="227.68" y1="586" x2="227.68" y2="591"/>
<line x1="228.6" y1="586" x2="228.6" y2="590"/>
<line x1="229.52" y1="586" x2="229.52" y2="590.5"/>
<line x1="230.44" y1="586" x2="230.44" y2="589"/>
<line x1="231.36" y1="586" x2="231.36" y2="589"/>
<line x1="232.28" y1="586" x2="232.28" y2="590"/>
<line x1="233.2" y1="586" x2="233.2" y2="591"/>
<line x1="234.12" y1="586" x2="234.12" y2="590"/>
<line x1="235.04" y1="586" x2="235.04" y2="590.5"/>
<line x1="235.96" y1="586" x2="235.96" y2="592"/>
<line x1="236.88" y1="586" x2="236.88" y2="591"/>
<line x1="237.8" y1="586" x2="237.8" y2="592"/>
<line x1="238.72" y1="586" x2="238.72" y2="590.5"/>
<line x1="239.64" y1="586" x2="239.64" y2="591"/>
<line x1="240.56" y1="586" x2="240.56" y2="591.5"/>
<line x1="241.48" y1="586" x2="241.48" y2="591"/>
<line x1="242.4" y1="586" x2="242.4" y2="591.5"/>
<line x1="243.32" y1="586" x2="243.32" y2="590.5"/>
<line x1="244.24" y1="586" x2="244.24" y2="591.5"/>
<line x1="245.16" y1="586" x2="245.16" y2="591.5"/>
<line x1="246.08" y1="586" x2="246.08" y2="591"/>
<line x1="247" y1="586" x2="247" y2="591.5"/>
<line x1="247.92" y1="586" x2="247.92" y2="590"/>
<line x1="248.84" y1="586" x2="248.84" y2="590.5"/>
<line x1="249.76" y1="586" x2="249.76" y2="592"/>
<line x1="250.68" y1="586" x2="250.68" y2="589"/>
<line x1="251.6" y1="586" x2="251.6" y2="590.5"/>
<line x1="252.52" y1="586" x2="252.52" y2="591.5"/>
<line x1="253.44" y1="586" x2="253.44" y2="592"/>
<line x1="254.36" y1="586" x2="254.36" y2="592"/>
<line x1="255.28" y1="586" x2="255.28" y2="590"/>
<line x1="256.2" y1="586" x2="256.2" y2="592"/>
<line x1="257.12" y1="586" x2="257.12" y2="590.5"/>
<line x1="258.04" y1="586" x2="258.04" y2="591.5"/>
<line x1="258.96" y1="586" x2="258.96" y2="591.5"/>
<line x1="259.88" y1="586" x2="259.88" y2="591.5"/>
<line x1="260.8" y1="586" x2="260.8" y2="589"/>
<line x1="261.72" y1="586" x2="261.72" y2="592"/>
<line x1="262.64" y1="586" x2="262.64" y2="592"/>
<line x1="263.56" y1="586" x2="263.56" y2="590"/>
<line x1="264.48" y1="586" x2="264.48" y2="592"/>
<line x1="265.4" y1="586" x2="265.4" y2="591.5"/>
<line x1="266.32" y1="586" x2="266.32" y2="590.5"/>
<line x1="267.24" y1="586" x2="267.24" y2="590.5"/>
<line x1="268.16" y1="586" x2="268.16" y2="589"/>
<line x1="269.08" y1="586" x2="269.08" y2="589"/>
<line x1="270" y1="586" x2="270" y2="591"/>
<line x1="270.92" y1="586" x2="270.92" y2="592"/>
<line x1="271.84" y1="586" x2="271.84" y2="591"/>
<line x1="272.76" y1="586" x2="272.76" y2="589"/>
<line x1="273.68" y1="586" x2="273.68" y2="590.5"/>
<line x1="274.6" y1="586" x2="274.6" y2="589"/>
<line x1="275.52" y1="586" x2="275.52" y2="591"/>
<line x1="276.44" y1="586" x2="276.44" y2="590"/>
<line x1="277.36" y1="586" x2="277.36" y2="589"/>
<line x1="278.28" y1="586" x2="278.28" y2="590.5"/>
<line x1="279.2" y1="586" x2="279.2" y2="591"/>
<line x1="280.12" y1="586" x2="280.12" y2="591"/>
<line x1="281.04" y1="586" x2="281.04" y2="589"/>
<line x1="281.96" y1="586" x2="281.96" y2="589"/>
<line x1="282.88" y1="586" x2="282.88" y2="591.5"/>
<line x1="283.8" y1="586" x2="283.8" y2="591.5"/>
<line x1="284.72" y1="586" x2="284.72" y2="589"/>
<line x1="285.64" y1="586" x2="285.64" y2="591"/>
<line x1="286.56" y1="586" x2="286.56" y2="592"/>
<line x1="287.48" y1="586" x2="287.48" y2="591.5"/>
<line x1="288.4" y1="586" x2="288.4" y2="590.5"/>
<line x1="289.32" y1="586" x2="289.32" y2="591.5"/>
<line x1="290.24" y1="586" x2="290.24" y2="590.5"/>
<line x1="291.16" y1="586" x2="291.16" y2="591.5"/>
<line x1="292.08" y1="586" x2="292.08" y2="590"/>
<line x1="293" y1="586" x2="293" y2="589"/>
<line x1="293.92" y1="586" x2="293.92" y2="590.5"/>
<line x1="294.84" y1="586" x2="294.84" y2="589"/>
<line x1="295.76" y1="586" x2="295.76" y2="589"/>
<line x1="296.68" y1="586" x2="296.68" y2="589"/>
<line x1="297.6" y1="586" x2="297.6" y2="591.5"/>
<line x1="298.52" y1="586" x2="298.52" y2="591.5"/>
<line x1="299.44" y1="586" x2="299.44" y2="589"/>
<line x1="300.36" y1="586" x2="300.36" y2="590"/>
<line x1="301.28" y1="586" x2="301.28" y2="591"/>
<line x1="302.2" y1="586" x2="302.2" y2="590.5"/>
<line x1="303.12" y1="586" x2="303.12" y2="591.5"/>
<line x1="304.04" y1="586" x2="304.04" y2="590.5"/>
<line x1="304.96" y1="586" x2="304.96" y2="590"/>
<line x1="305.88" y1="586" x2="305.88" y2="592"/>
<line x1="306.8" y1="586" x2="306.8" y2="589"/>
<line x1="307.72" y1="586" x2="307.72" y2="590.5"/>
<line x1="308.64" y1="586" x2="308.64" y2="590.5"/>
<line x1="309.56" y1="586" x2="309.56" y2="590.5"/>
<line x1="310.48" y1="586" x2="310.48" y2="590"/>
<line x1="311.4" y1="586" x2="311.4" y2="591"/>
<line x1="312.32" y1="586" x2="312.32" y2="591"/>
<line x1="313.24" y1="586" x2="313.24" y2="591"/>
<line x1="314.16" y1="586" x2="314.16" y2="591.5"/>
<line x1="315.08" y1="586" x2="315.08" y2="591"/>
<line x1="316" y1="586" x2="316" y2="592"/>
<line x1="316.92" y1="586" x2="316.92" y2="591.5"/>
<line x1="317.84" y1="586" x2="317.84" y2="592"/>
<line x1="318.76" y1="586" x2="318.76" y2="591.5"/>
<line x1="319.68" y1="586" x2="319.68" y2="589"/>
<line x1="320.6" y1="586" x2="320.6" y2="591.5"/>
<line x1="321.52" y1="586" x2="321.52" y2="591.5"/>
<line x1="322.44" y1="586" x2="322.44" y2="590.5"/>
<line x1="323.36" y1="586" x2="323.36" y2="591"/>
<line x1="324.28" y1="586" x2="324.28" y2="592"/>
<line x1="325.2" y1="586" x2="325.2" y2="592"/>
<line x1="326.12" y1="586" x2="326.12" y2="592"/>
<line x1="327.04" y1="586" x2="327.04" y2="590"/>
<line x1="327.96" y1="586" x2="327.96" y2="590.5"/>
<line x1="328.88" y1="586" x2="328.88" y2="591"/>
<line x1="329.8" y1="586" x2="329.8" y2="590.5"/>
<line x1="330.72" y1="586" x2="330.72" y2="591.5"/>
<line x1="331.64" y1="586" x2="331.64" y2="590.5"/>
<line x1="332.56" y1="586" x2="332.56" y2="591.5"/>
<line x1="333.48" y1="586" x2="333.48" y2="590.5"/>
<line x1="334.4" y1="586" x2="334.4" y2="589"/>
<line x1="335.32" y1="586" x2="335.32" y2="591"/>
<line x1="336.24" y1="586" x2="336.24" y2="591.5"/>
<line x1="337.16" y1="586" x2="337.16" y2="590.5"/>
<line x1="338.08" y1="586" x2="338.08" y2="589"/>
<line x1="339" y1="586" x2="339" y2="591"/>
<line x1="339.92" y1="586" x2="339.92" y2="591.5"/>
<line x1="340.84" y1="586" x2="340.84" y2="591.5"/>
<line x1="341.76" y1="586" x2="341.76" y2="592"/>
<line x1="342.68" y1="586" x2="342.68" y2="590"/>
<line x1="343.6" y1="586" x2="343.6" y2="589"/>
<line x1="344.52" y1="586" x2="344.52" y2="592"/>
<line x1="345.44" y1="586" x2="345.44" y2="592"/>
<line x1="346.36" y1="586" x2="346.36" y2="590.5"/>
<line x1="347.28" y1="586" x2="347.28" y2="591"/>
<line x1="348.2" y1="586" x2="348.2" y2="590.5"/>
<line x1="349.12" y1="586" x2="349.12" y2="592"/>
<line x1="350.04" y1="586" x2="350.04" y2="590.5"/>
<line x1="350.96" y1="586" x2="350.96" y2="591.5"/>
<line x1="351.88" y1="586" x2="351.88" y2="592"/>
<line x1="352.8" y1="586" x2="352.8" y2="590.5"/>
<line x1="353.72" y1="586" x2="353.72" y2="592"/>
<line x1="354.64" y1="586" x2="354.64" y2="591"/>
<line x1="355.56" y1="586" x2="355.56" y2="589"/>
<line x1="356.48" y1="586" x2="356.48" y2="591.5"/>
<line x1="357.4" y1="586" x2="357.4" y2="589"/>
<line x1="358.32" y1="586" x2="358.32" y2="592"/>
<line x1="359.24" y1="586" x2="359.24" y2="589"/>
<line x1="360.16" y1="586" x2="360.16" y2="590.5"/>
<line x1="361.08" y1="586" x2="361.08" y2="590.5"/>
<line x1="362" y1="586" x2="362" y2="592"/>
<line x1="362.92" y1="586" x2="362.92" y2="591"/>
<line x1="363.84" y1="586" x2="363.84" y2="590.5"/>
<line x1="364.76" y1="586" x2="364.76" y2="591.5"/>
<line x1="365.68" y1="586" x2="365.68" y2="591.5"/>
<line x1="366.6" y1="586" x2="366.6" y2="590.5"/>
<line x1="367.52" y1="586" x2="367.52" y2="590"/>
<line x1="368.44" y1="586" x2="368.44" y2="590.5"/>
<line x1="369.36" y1="586" x2="369.36" y2="590"/>
<line x1="370.28" y1="586" x2="370.28" y2="590.5"/>
<line x1="371.2" y1="586" x2="371.2" y2="590.5"/>
<line x1="372.12" y1="586" x2="372.12" y2="591.5"/>
<line x1="373.04" y1="586" x2="373.04" y2="590.5"/>
<line x1="373.96" y1="586" x2="373.96" y2="590.5"/>
<line x1="374.88" y1="586" x2="374.88" y2="591"/>
<line x1="375.8" y1="586" x2="375.8" y2="589"/>
<line x1="376.72" y1="586" x2="376.72" y2="589"/>
<line x1="377.64" y1="586" x2="377.64" y2="591.5"/>
<line x1="378.56" y1="586" x2="378.56" y2="592"/>
<line x1="379.48" y1="586" x2="379.48" y2="592"/>
<line x1="380.4" y1="586" x2="380.4" y2="590"/>
<line x1="381.32" y1="586" x2="381.32" y2="590.5"/>
<line x1="382.24" y1="586" x2="382.24" y2="591.5"/>
<line x1="383.16" y1="586" x2="383.16" y2="590"/>
<line x1="384.08" y1="586" x2="384.08" y2="592"/>
<line x1="385" y1="586" x2="385" y2="590.5"/>
<line x1="385.92" y1="586" x2="385.92" y2="590"/>
<line x1="386.84" y1="586" x2="386.84" y2="590.5"/>
<line x1="387.76" y1="586" x2="387.76" y2="590"/>
<line x1="388.68" y1="586" x2="388.68" y2="592"/>
<line x1="389.6" y1="586" x2="389.6" y2="591"/>
<line x1="390.52" y1="586" x2="390.52" y2="592"/>
<line x1="391.44" y1="586" x2="391.44" y2="592"/>
<line x1="392.36" y1="586" x2="392.36" y2="589"/>
<line x1="393.28" y1="586" x2="393.28" y2="589"/>
<line x1="394.2" y1="586" x2="394.2" y2="591.5"/>
<line x1="395.12" y1="586" x2="395.12" y2="590.5"/>
<line x1="396.04" y1="586" x2="396.04" y2="590.5"/>
<line x1="396.96" y1="586" x2="396.96" y2="592"/>
<line x1="397.88" y1="586" x2="397.88" y2="590"/>
<line x1="398.8" y1="586" x2="398.8" y2="591"/>
<line x1="399.72" y1="586" x2="399.72" y2="590"/>
<line x1="400.64" y1="586" x2="400.64" y2="589"/>
<line x1="401.56" y1="586" x2="401.56" y2="590.5"/>
<line x1="402.48" y1="586" x2="402.48" y2="592"/>
<line x1="403.4" y1="586" x2="403.4" y2="592"/>
<line x1="404.32" y1="586" x2="404.32" y2="590"/>
<line x1="405.24" y1="586" x2="405.24" y2="591.5"/>
<line x1="406.16" y1="586" x2="406.16" y2="591"/>
<line x1="407.08" y1="586" x2="407.08" y2="590.5"/>
<line x1="408" y1="586" x2="408" y2="590"/>
<line x1="408.92" y1="586" x2="408.92" y2="589"/>
<line x1="409.84" y1="586" x2="409.84" y2="589"/>
<line x1="410.76" y1="586" x2="410.76" y2="591.5"/>
<line x1="411.68" y1="586" x2="411.68" y2="590"/>
<line x1="412.6" y1="586" x2="412.6" y2="590.5"/>
<line x1="413.52" y1="586" x2="413.52" y2="591.5"/>
<line x1="414.44" y1="586" x2="414.44" y2="590"/>
<line x1="415.36" y1="586" x2="415.36" y2="590.5"/>
<line x1="416.28" y1="586" x2="416.28" y2="590.5"/>
<line x1="417.2" y1="586" x2="417.2" y2="592"/>
<line x1="418.12" y1="586" x2="418.12" y2="589"/>
<line x1="419.04" y1="586" x2="419.04" y2="591.5"/>
<line x1="419.96" y1="586" x2="419.96" y2="590.5"/>
<line x1="420.88" y1="586" x2="420.88" y2="591.5"/>
<line x1="421.8" y1="586" x2="421.8" y2="590"/>
<line x1="422.72" y1="586" x2="422.72" y2="591"/>
<line x1="423.64" y1="586" x2="423.64" y2="590.5"/>
<line x1="424.56" y1="586" x2="424.56" y2="591.5"/>
<line x1="425.48" y1="586" x2="425.48" y2="590.5"/>
<line x1="426.4" y1="586" x2="426.4" y2="591"/>
<line x1="427.32" y1="586" x2="427.32" y2="590.5"/>
<line x1="428.24" y1="586" x2="428.24" y2="592"/>
<line x1="429.16" y1="586" x2="429.16" y2="591"/>
<line x1="430.08" y1="586" x2="430.08" y2="590.5"/>
<line x1="431" y1="586" x2="431" y2="591"/>
<line x1="431.92" y1="586" x2="431.92" y2="591.5"/>
<line x1="432.84" y1="586" x2="432.84" y2="591"/>
<line x1="433.76" y1="586" x2="433.76" y2="589"/>
<line x1="434.68" y1="586" x2="434.68" y2="591"/>
<line x1="435.6" y1="586" x2="435.6" y2="590"/>
<line x1="436.52" y1="586" x2="436.52" y2="590"/>
<line x1="437.44" y1="586" x2="437.44" y2="589"/>
<line x1="438.36" y1="586" x2="438.36" y2="591"/>
<line x1="439.28" y1="586" x2="439.28" y2="591.5"/>
<line x1="440.2" y1="586" x2="440.2" y2="591.5"/>
<line x1="441.12" y1="586" x2="441.12" y2="591"/>
<line x1="442.04" y1="586" x2="442.04" y2="591.5"/>
<line x1="442.96" y1="586" x2="442.96" y2="592"/>
<line x1="443.88" y1="586" x2="443.88" y2="590"/>
<line x1="444.8" y1="586" x2="444.8" y2="589"/>
<line x1="445.72" y1="586" x2="445.72" y2="592"/>
<line x1="446.64" y1="586" x2="446.64" y2="591"/>
<line x1="447.56" y1="586" x2="447.56" y2="592"/>
<line x1="448.48" y1="586" x2="448.48" y2="592"/>
<line x1="449.4" y1="586" x2="449.4" y2="591.5"/>
<line x1="450.32" y1="586" x2="450.32" y2="590.5"/>
<line x1="451.24" y1="586" x2="451.24" y2="591.5"/>
<line x1="452.16" y1="586" x2="452.16" y2="590.5"/>
<line x1="453.08" y1="586" x2="453.08" y2="590"/>
<line x1="454" y1="586" x2="454" y2="589"/>
<line x1="454.92" y1="586" x2="454.92" y2="591.5"/>
<line x1="455.84" y1="586" x2="455.84" y2="590.5"/>
<line x1="456.76" y1="586" x2="456.76" y2="589"/>
<line x1="457.68" y1="586" x2="457.68" y2="590"/>
<line x1="458.6" y1="586" x2="458.6" y2="589"/>
<line x1="459.52" y1="586" x2="459.52" y2="589"/>
<line x1="460.44" y1="586" x2="460.44" y2="592"/>
<line x1="461.36" y1="586" x2="461.36" y2="591.5"/>
<line x1="462.28" y1="586" x2="462.28" y2="590"/>
<line x1="463.2" y1="586" x2="463.2" y2="591"/>
<line x1="464.12" y1="586" x2="464.12" y2="591.5"/>
<line x1="465.04" y1="586" x2="465.04" y2="589"/>
<line x1="465.96" y1="586" x2="465.96" y2="589"/>
<line x1="466.88" y1="586" x2="466.88" y2="591"/>
<line x1="467.8" y1="586" x2="467.8" y2="592"/>
<line x1="468.72" y1="586" x2="468.72" y2="589"/>
<line x1="469.64" y1="586" x2="469.64" y2="590"/>
<line x1="470.56" y1="586" x2="470.56" y2="591.5"/>
<line x1="471.48" y1="586" x2="471.48" y2="590.5"/>
<line x1="472.4" y1="586" x2="472.4" y2="590"/>
<line x1="473.32" y1="586" x2="473.32" y2="592"/>
<line x1="474.24" y1="586" x2="474.24" y2="589"/>
<line x1="475.16" y1="586" x2="475.16" y2="591.5"/>
<line x1="476.08" y1="586" x2="476.08" y2="591.5"/>
<line x1="477" y1="586" x2="477" y2="591"/>
<line x1="477.92" y1="586" x2="477.92" y2="589"/>
<line x1="478.84" y1="586" x2="478.84" y2="591.5"/>
<line x1="479.76" y1="586" x2="479.76" y2="589"/>
<line x1="480.68" y1="586" x2="480.68" y2="590.5"/>
<line x1="481.6" y1="586" x2="481.6" y2="590"/>
<line x1="482.52" y1="586" x2="482.52" y2="590.5"/>
<line x1="483.44" y1="586" x2="483.44" y2="591.5"/>
<line x1="484.36" y1="586" x2="484.36" y2="591"/>
<line x1="485.28" y1="586" x2="485.28" y2="589"/>
<line x1="486.2" y1="586" x2="486.2" y2="590.5"/>
<line x1="487.12" y1="586" x2="487.12" y2="590"/>
<line x1="488.04" y1="586" x2="488.04" y2="590"/>
<line x1="488.96" y1="586" x2="488.96" y2="589"/>
<line x1="489.88" y1="586" x2="489.88" y2="591.5"/>
<line x1="490.8" y1="586" x2="490.8" y2="589"/>
<line x1="491.72" y1="586" x2="491.72" y2="590"/>
<line x1="492.64" y1="586" x2="492.64" y2="590"/>
<line x1="493.56" y1="586" x2="493.56" y2="590.5"/>
<line x1="494.48" y1="586" x2="494.48" y2="590"/>
<line x1="495.4" y1="586" x2="495.4" y2="589"/>
<line x1="496.32" y1="586" x2="496.32" y2="591"/>
<line x1="497.24" y1="586" x2="497.24" y2="592"/>
<line x1="498.16" y1="586" x2="498.16" y2="591.5"/>
<line x1="499.08" y1="586" x2="499.08" y2="591"/>
<line x1="500" y1="586" x2="500" y2="589"/>
<line x1="500.92" y1="586" x2="500.92" y2="590.5"/>
<line x1="501.84" y1="586" x2="501.84" y2="590"/>
<line x1="502.76" y1="586" x2="502.76" y2="590.5"/>
<line x1="503.68" y1="586" x2="503.68" y2="591.5"/>
<line x1="504.6" y1="586" x2="504.6" y2="591.5"/>
<line x1="505.52" y1="586" x2="505.52" y2="591.5"/>
<line x1="506.44" y1="586" x2="506.44" y2="591"/>
<line x1="507.36" y1="586" x2="507.36" y2="589"/>
<line x1="508.28" y1="586" x2="508.28" y2="591"/>
<line x1="509.2" y1="586" x2="509.2" y2="590.5"/>
<line x1="510.12" y1="586" x2="510.12" y2="589"/>
<line x1="511.04" y1="586" x2="511.04" y2="589"/>
<line x1="511.96" y1="586" x2="511.96" y2="590"/>
</g>
<rect x="378" y="588.8" width="28" height="2.6" fill="#c4c4c4" opacity="0.8"/>
</svg>
</body></html>
